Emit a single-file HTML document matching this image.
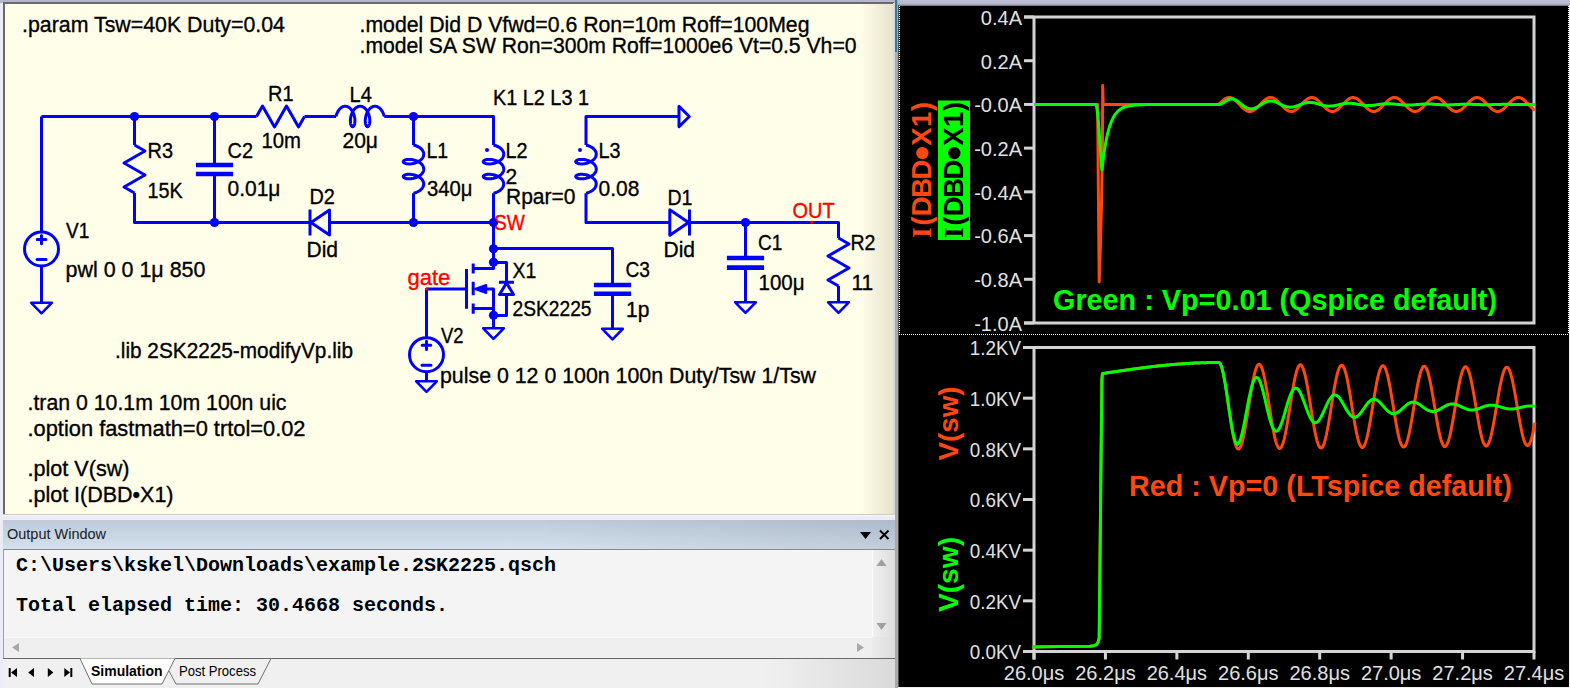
<!DOCTYPE html>
<html><head><meta charset="utf-8">
<style>
html,body{margin:0;padding:0;width:1570px;height:688px;overflow:hidden;background:#ebecf6;font-family:"Liberation Sans",sans-serif;}
.abs{position:absolute;}
#topband{left:0;top:0;width:895px;height:3px;background:#b4b6cc;}
#topband2{left:895px;top:0;width:675px;height:6px;background:linear-gradient(#bcbfd4 0,#b6b9ce 4px,#6c6c74 6px);}
#schem{left:3px;top:2px;width:891px;height:513px;background:linear-gradient(90deg,#fffee8 0,#fffee8 855px,#e4e2cc 890px);border-top:2px solid #6a6a6a;border-left:2px solid #6a6a6a;box-sizing:border-box;}
#schemb{left:3px;top:514px;width:892px;height:2px;background:linear-gradient(#cbcbcb 0,#cbcbcb 1px,#f6f6f8 1px);}
#owtitle{left:3px;top:520px;width:892px;height:29px;background:linear-gradient(90deg,rgba(40,50,70,0) 60%,rgba(40,50,70,0.10)),linear-gradient(#bccada,#d4e0ed);}
#owline{left:3px;top:549px;width:892px;height:1px;background:#8a8a8a;}
#owbody{left:3px;top:550px;width:892px;height:138px;background:#f4f4f4;border-left:1px solid #a0a0a0;box-sizing:border-box;}
#hscroll{left:4px;top:637px;width:868px;height:21px;background:#efefef;border-top:1px solid #fafafa;}
#vscroll{left:872px;top:550px;width:23px;height:108px;background:linear-gradient(90deg,#f0f0f0,#dcdcdc);border-left:1px solid #fafafa;}
#hscroll2{left:872px;top:637px;width:23px;height:21px;background:linear-gradient(90deg,#ececec,#dcdcdc);}
#tabbar{left:3px;top:658px;width:892px;height:30px;background:linear-gradient(90deg,#f0f0f0 0,#f0f0f0 760px,#dadada 892px);border-top:1px solid #6a6a6a;box-sizing:border-box;}
#vstrip{left:893px;top:3px;width:2px;height:511px;background:#d8d8d8;}
#vstrip2{left:895px;top:0;width:3px;height:688px;background:#a8a8a8;}
#vthumb{left:895px;top:0;width:2px;height:52px;background:#2f7b9b;}
#vdark{left:898px;top:5px;width:1px;height:683px;background:#505050;}
#plotbg{left:899px;top:6px;width:670px;height:681px;background:#000;}
#rightedge{left:1569px;top:5px;width:1px;height:683px;background:#f0f0f0;}
#botedge{left:898px;top:687px;width:672px;height:1px;background:#f0f0f0;}
svg{position:absolute;left:0;top:0;}
.mono{font-family:"Liberation Mono",monospace;font-weight:700;font-size:20px;color:#000;white-space:pre;position:absolute;}
</style></head><body>
<div class="abs" id="topband"></div>
<div class="abs" id="topband2"></div>
<div class="abs" id="schem"></div>
<div class="abs" id="schemb"></div>
<div class="abs" id="owtitle"></div>
<div class="abs" id="owline"></div>
<div class="abs" id="owbody"></div>
<div class="abs" id="hscroll"></div>
<div class="abs" id="vscroll"></div>
<div class="abs" id="hscroll2"></div>
<div class="abs" id="tabbar"></div>
<div class="abs" id="vstrip"></div>
<div class="abs" id="vstrip2"></div>
<div class="abs" id="vthumb"></div>
<div class="abs" id="vdark"></div>
<div class="abs" id="plotbg"></div>
<div class="abs" id="rightedge"></div>
<div class="abs" id="botedge"></div>
<svg width="1570" height="688" viewBox="0 0 1570 688" font-family="Liberation Sans">
<defs><pattern id="dots" width="2" height="2" patternUnits="userSpaceOnUse"><rect width="1" height="1" fill="#ffffff"/></pattern></defs>
<g stroke="#0000ff" stroke-width="3" fill="none" stroke-linejoin="round" stroke-linecap="butt">
<path d="M41.5 116.5 L41.5 231.5" />
<circle cx="41.5" cy="249" r="17" fill="none"/>
<path d="M37.2 239.6 L45.8 239.6 M41.5 235.5 L41.5 243.7 M37 259.5 L46 259.5" stroke-width="3" stroke-linecap="round"/>
<path d="M41.5 266.5 L41.5 303.5" />
<path d="M31.2 302.8 L51.8 302.8 L41.5 313.3 Z" stroke-linejoin="round" stroke-width="2.6"/>
<path d="M41.5 116.5 L256.5 116.5" />
<path d="M256.5 116.5 L262.5 106 L274.5 127 L286.5 106 L298.5 127 L304.5 116.5" />
<path d="M304.5 116.5 L336 116.5" />
<path d="M336 116.5 L336.2 115.7 L336.44 114.9 L336.71 114.11 L337.01 113.33 L337.35 112.58 L337.71 111.85 L338.11 111.14 L338.54 110.48 L338.99 109.84 L339.47 109.25 L339.97 108.71 L340.49 108.21 L341.04 107.76 L341.6 107.37 L342.18 107.03 L342.77 106.75 L343.37 106.53 L343.97 106.38 L344.59 106.28 L345.2 106.25 L345.82 106.28 L346.43 106.38 L347.04 106.53 L347.64 106.75 L348.23 107.03 L348.81 107.37 L349.37 107.76 L349.92 108.21 L350.44 108.71 L350.94 109.25 L351.42 109.84 L351.87 110.48 L352.3 111.14 L352.69 111.85 L353.06 112.58 L353.4 113.33 L353.7 114.11 L353.97 114.9 L354.21 115.7 L354.41 116.5 L354.58 117.3 L354.71 118.1 L354.82 118.89 L354.89 119.67 L354.92 120.42 L354.93 121.15 L354.9 121.86 L354.85 122.52 L354.77 123.16 L354.67 123.75 L354.54 124.29 L354.38 124.79 L354.21 125.24 L354.02 125.63 L353.82 125.97 L353.6 126.25 L353.37 126.47 L353.14 126.62 L352.9 126.72 L352.65 126.75 L352.41 126.72 L352.17 126.62 L351.93 126.47 L351.7 126.25 L351.49 125.97 L351.28 125.63 L351.09 125.24 L350.92 124.79 L350.77 124.29 L350.64 123.75 L350.53 123.16 L350.45 122.52 L350.4 121.86 L350.38 121.15 L350.38 120.42 L350.42 119.67 L350.49 118.89 L350.59 118.1 L350.73 117.3 L350.9 116.5 L351.1 115.7 L351.34 114.9 L351.61 114.11 L351.91 113.33 L352.25 112.58 L352.61 111.85 L353.01 111.14 L353.43 110.48 L353.89 109.84 L354.36 109.25 L354.87 108.71 L355.39 108.21 L355.93 107.76 L356.5 107.37 L357.07 107.03 L357.66 106.75 L358.26 106.53 L358.87 106.38 L359.49 106.28 L360.1 106.25 L360.72 106.28 L361.33 106.38 L361.94 106.53 L362.54 106.75 L363.13 107.03 L363.71 107.37 L364.27 107.76 L364.81 108.21 L365.34 108.71 L365.84 109.25 L366.32 109.84 L366.77 110.48 L367.2 111.14 L367.59 111.85 L367.96 112.58 L368.29 113.33 L368.6 114.11 L368.87 114.9 L369.1 115.7 L369.31 116.5 L369.48 117.3 L369.61 118.1 L369.71 118.89 L369.78 119.67 L369.82 120.42 L369.83 121.15 L369.8 121.86 L369.75 122.52 L369.67 123.16 L369.56 123.75 L369.43 124.29 L369.28 124.79 L369.11 125.24 L368.92 125.63 L368.72 125.97 L368.5 126.25 L368.27 126.47 L368.04 126.62 L367.79 126.72 L367.55 126.75 L367.31 126.72 L367.07 126.62 L366.83 126.47 L366.6 126.25 L366.38 125.97 L366.18 125.63 L365.99 125.24 L365.82 124.79 L365.67 124.29 L365.54 123.75 L365.43 123.16 L365.35 122.52 L365.3 121.86 L365.27 121.15 L365.28 120.42 L365.32 119.67 L365.39 118.89 L365.49 118.1 L365.63 117.3 L365.79 116.5 L366 115.7 L366.23 114.9 L366.5 114.11 L366.81 113.33 L367.14 112.58 L367.51 111.85 L367.91 111.14 L368.33 110.48 L368.78 109.84 L369.26 109.25 L369.76 108.71 L370.29 108.21 L370.83 107.76 L371.39 107.37 L371.97 107.03 L372.56 106.75 L373.16 106.53 L373.77 106.38 L374.38 106.28 L375 106.25 L375.62 106.28 L376.23 106.38 L376.84 106.53 L377.44 106.75 L378.03 107.03 L378.6 107.37 L379.17 107.76 L379.71 108.21 L380.23 108.71 L380.74 109.25 L381.21 109.84 L381.67 110.48 L382.09 111.14 L382.49 111.85 L382.86 112.58 L383.19 113.33 L383.49 114.11 L383.76 114.9 L384 115.7 L384.2 116.5" />
<path d="M384.3 116.5 L493.5 116.5 L493.5 145" />
<path d="M134.5 116.5 L134.5 145" />
<path d="M134.5 145 L145 151 L124 163 L145 175 L124 187 L134.5 193" />
<path d="M134.5 193 L134.5 222.5 L309 222.5" />
<path d="M214.5 116.5 L214.5 165" />
<path d="M195.9 165 L233.1 165 M195.9 174 L233.1 174" stroke-width="4.6" stroke-linecap="butt"/>
<path d="M214.5 174 L214.5 222.5" />
<path d="M310 209.5 L310 235.5 M311 222.5 L329.5 210 L329.5 235 Z" stroke-linejoin="round"/>
<path d="M329.5 222.5 L493.5 222.5" />
<path d="M413.5 116.5 L413.5 145" />
<path d="M413.5 145 L414.3 145.2 L415.1 145.44 L415.89 145.71 L416.67 146.01 L417.42 146.35 L418.15 146.71 L418.86 147.11 L419.52 147.54 L420.16 147.99 L420.75 148.47 L421.29 148.97 L421.79 149.49 L422.24 150.04 L422.63 150.6 L422.97 151.18 L423.25 151.77 L423.47 152.37 L423.62 152.97 L423.72 153.59 L423.75 154.2 L423.72 154.82 L423.62 155.43 L423.47 156.04 L423.25 156.64 L422.97 157.23 L422.63 157.81 L422.24 158.37 L421.79 158.92 L421.29 159.44 L420.75 159.94 L420.16 160.42 L419.52 160.87 L418.86 161.3 L418.15 161.69 L417.42 162.06 L416.67 162.4 L415.89 162.7 L415.1 162.97 L414.3 163.21 L413.5 163.41 L412.7 163.58 L411.9 163.71 L411.11 163.82 L410.33 163.89 L409.58 163.92 L408.85 163.93 L408.14 163.9 L407.48 163.85 L406.84 163.77 L406.25 163.67 L405.71 163.54 L405.21 163.38 L404.76 163.21 L404.37 163.02 L404.03 162.82 L403.75 162.6 L403.53 162.37 L403.38 162.14 L403.28 161.9 L403.25 161.65 L403.28 161.41 L403.38 161.17 L403.53 160.93 L403.75 160.7 L404.03 160.49 L404.37 160.28 L404.76 160.09 L405.21 159.92 L405.71 159.77 L406.25 159.64 L406.84 159.53 L407.48 159.45 L408.14 159.4 L408.85 159.38 L409.58 159.38 L410.33 159.42 L411.11 159.49 L411.9 159.59 L412.7 159.73 L413.5 159.9 L414.3 160.1 L415.1 160.34 L415.89 160.61 L416.67 160.91 L417.42 161.25 L418.15 161.61 L418.86 162.01 L419.52 162.43 L420.16 162.89 L420.75 163.36 L421.29 163.87 L421.79 164.39 L422.24 164.93 L422.63 165.5 L422.97 166.07 L423.25 166.66 L423.47 167.26 L423.62 167.87 L423.72 168.49 L423.75 169.1 L423.72 169.72 L423.62 170.33 L423.47 170.94 L423.25 171.54 L422.97 172.13 L422.63 172.71 L422.24 173.27 L421.79 173.81 L421.29 174.34 L420.75 174.84 L420.16 175.32 L419.52 175.77 L418.86 176.2 L418.15 176.59 L417.42 176.96 L416.67 177.29 L415.89 177.6 L415.1 177.87 L414.3 178.1 L413.5 178.31 L412.7 178.48 L411.9 178.61 L411.11 178.71 L410.33 178.78 L409.58 178.82 L408.85 178.83 L408.14 178.8 L407.48 178.75 L406.84 178.67 L406.25 178.56 L405.71 178.43 L405.21 178.28 L404.76 178.11 L404.37 177.92 L404.03 177.72 L403.75 177.5 L403.53 177.27 L403.38 177.04 L403.28 176.79 L403.25 176.55 L403.28 176.31 L403.38 176.07 L403.53 175.83 L403.75 175.6 L404.03 175.38 L404.37 175.18 L404.76 174.99 L405.21 174.82 L405.71 174.67 L406.25 174.54 L406.84 174.43 L407.48 174.35 L408.14 174.3 L408.85 174.27 L409.58 174.28 L410.33 174.32 L411.11 174.39 L411.9 174.49 L412.7 174.63 L413.5 174.79 L414.3 175 L415.1 175.23 L415.89 175.5 L416.67 175.81 L417.42 176.14 L418.15 176.51 L418.86 176.91 L419.52 177.33 L420.16 177.78 L420.75 178.26 L421.29 178.76 L421.79 179.29 L422.24 179.83 L422.63 180.39 L422.97 180.97 L423.25 181.56 L423.47 182.16 L423.62 182.77 L423.72 183.38 L423.75 184 L423.72 184.62 L423.62 185.23 L423.47 185.84 L423.25 186.44 L422.97 187.03 L422.63 187.6 L422.24 188.17 L421.79 188.71 L421.29 189.23 L420.75 189.74 L420.16 190.21 L419.52 190.67 L418.86 191.09 L418.15 191.49 L417.42 191.86 L416.67 192.19 L415.89 192.49 L415.1 192.76 L414.3 193 L413.5 193.2" />
<path d="M413.5 193.3 L413.5 222.5" />
<path d="M493.5 145 L494.3 145.2 L495.1 145.44 L495.89 145.71 L496.67 146.01 L497.42 146.35 L498.15 146.71 L498.86 147.11 L499.52 147.54 L500.16 147.99 L500.75 148.47 L501.29 148.97 L501.79 149.49 L502.24 150.04 L502.63 150.6 L502.97 151.18 L503.25 151.77 L503.47 152.37 L503.62 152.97 L503.72 153.59 L503.75 154.2 L503.72 154.82 L503.62 155.43 L503.47 156.04 L503.25 156.64 L502.97 157.23 L502.63 157.81 L502.24 158.37 L501.79 158.92 L501.29 159.44 L500.75 159.94 L500.16 160.42 L499.52 160.87 L498.86 161.3 L498.15 161.69 L497.42 162.06 L496.67 162.4 L495.89 162.7 L495.1 162.97 L494.3 163.21 L493.5 163.41 L492.7 163.58 L491.9 163.71 L491.11 163.82 L490.33 163.89 L489.58 163.92 L488.85 163.93 L488.14 163.9 L487.48 163.85 L486.84 163.77 L486.25 163.67 L485.71 163.54 L485.21 163.38 L484.76 163.21 L484.37 163.02 L484.03 162.82 L483.75 162.6 L483.53 162.37 L483.38 162.14 L483.28 161.9 L483.25 161.65 L483.28 161.41 L483.38 161.17 L483.53 160.93 L483.75 160.7 L484.03 160.49 L484.37 160.28 L484.76 160.09 L485.21 159.92 L485.71 159.77 L486.25 159.64 L486.84 159.53 L487.48 159.45 L488.14 159.4 L488.85 159.38 L489.58 159.38 L490.33 159.42 L491.11 159.49 L491.9 159.59 L492.7 159.73 L493.5 159.9 L494.3 160.1 L495.1 160.34 L495.89 160.61 L496.67 160.91 L497.42 161.25 L498.15 161.61 L498.86 162.01 L499.52 162.43 L500.16 162.89 L500.75 163.36 L501.29 163.87 L501.79 164.39 L502.24 164.93 L502.63 165.5 L502.97 166.07 L503.25 166.66 L503.47 167.26 L503.62 167.87 L503.72 168.49 L503.75 169.1 L503.72 169.72 L503.62 170.33 L503.47 170.94 L503.25 171.54 L502.97 172.13 L502.63 172.71 L502.24 173.27 L501.79 173.81 L501.29 174.34 L500.75 174.84 L500.16 175.32 L499.52 175.77 L498.86 176.2 L498.15 176.59 L497.42 176.96 L496.67 177.29 L495.89 177.6 L495.1 177.87 L494.3 178.1 L493.5 178.31 L492.7 178.48 L491.9 178.61 L491.11 178.71 L490.33 178.78 L489.58 178.82 L488.85 178.83 L488.14 178.8 L487.48 178.75 L486.84 178.67 L486.25 178.56 L485.71 178.43 L485.21 178.28 L484.76 178.11 L484.37 177.92 L484.03 177.72 L483.75 177.5 L483.53 177.27 L483.38 177.04 L483.28 176.79 L483.25 176.55 L483.28 176.31 L483.38 176.07 L483.53 175.83 L483.75 175.6 L484.03 175.38 L484.37 175.18 L484.76 174.99 L485.21 174.82 L485.71 174.67 L486.25 174.54 L486.84 174.43 L487.48 174.35 L488.14 174.3 L488.85 174.27 L489.58 174.28 L490.33 174.32 L491.11 174.39 L491.9 174.49 L492.7 174.63 L493.5 174.79 L494.3 175 L495.1 175.23 L495.89 175.5 L496.67 175.81 L497.42 176.14 L498.15 176.51 L498.86 176.91 L499.52 177.33 L500.16 177.78 L500.75 178.26 L501.29 178.76 L501.79 179.29 L502.24 179.83 L502.63 180.39 L502.97 180.97 L503.25 181.56 L503.47 182.16 L503.62 182.77 L503.72 183.38 L503.75 184 L503.72 184.62 L503.62 185.23 L503.47 185.84 L503.25 186.44 L502.97 187.03 L502.63 187.6 L502.24 188.17 L501.79 188.71 L501.29 189.23 L500.75 189.74 L500.16 190.21 L499.52 190.67 L498.86 191.09 L498.15 191.49 L497.42 191.86 L496.67 192.19 L495.89 192.49 L495.1 192.76 L494.3 193 L493.5 193.2" />
<circle cx="487" cy="150" r="2" fill="#0000ff" stroke="none"/>
<path d="M493.5 193.3 L493.5 262.5" />
<path d="M679 116.5 L586 116.5 L586 145" />
<path d="M679 106.3 L689.3 116.5 L679 126.7 Z" stroke-linejoin="round"/>
<path d="M586 145 L586.8 145.2 L587.6 145.44 L588.39 145.71 L589.17 146.01 L589.92 146.35 L590.65 146.71 L591.36 147.11 L592.02 147.54 L592.66 147.99 L593.25 148.47 L593.79 148.97 L594.29 149.49 L594.74 150.04 L595.13 150.6 L595.47 151.18 L595.75 151.77 L595.97 152.37 L596.12 152.97 L596.22 153.59 L596.25 154.2 L596.22 154.82 L596.12 155.43 L595.97 156.04 L595.75 156.64 L595.47 157.23 L595.13 157.81 L594.74 158.37 L594.29 158.92 L593.79 159.44 L593.25 159.94 L592.66 160.42 L592.02 160.87 L591.36 161.3 L590.65 161.69 L589.92 162.06 L589.17 162.4 L588.39 162.7 L587.6 162.97 L586.8 163.21 L586 163.41 L585.2 163.58 L584.4 163.71 L583.61 163.82 L582.83 163.89 L582.08 163.92 L581.35 163.93 L580.64 163.9 L579.98 163.85 L579.34 163.77 L578.75 163.67 L578.21 163.54 L577.71 163.38 L577.26 163.21 L576.87 163.02 L576.53 162.82 L576.25 162.6 L576.03 162.37 L575.88 162.14 L575.78 161.9 L575.75 161.65 L575.78 161.41 L575.88 161.17 L576.03 160.93 L576.25 160.7 L576.53 160.49 L576.87 160.28 L577.26 160.09 L577.71 159.92 L578.21 159.77 L578.75 159.64 L579.34 159.53 L579.98 159.45 L580.64 159.4 L581.35 159.38 L582.08 159.38 L582.83 159.42 L583.61 159.49 L584.4 159.59 L585.2 159.73 L586 159.9 L586.8 160.1 L587.6 160.34 L588.39 160.61 L589.17 160.91 L589.92 161.25 L590.65 161.61 L591.36 162.01 L592.02 162.43 L592.66 162.89 L593.25 163.36 L593.79 163.87 L594.29 164.39 L594.74 164.93 L595.13 165.5 L595.47 166.07 L595.75 166.66 L595.97 167.26 L596.12 167.87 L596.22 168.49 L596.25 169.1 L596.22 169.72 L596.12 170.33 L595.97 170.94 L595.75 171.54 L595.47 172.13 L595.13 172.71 L594.74 173.27 L594.29 173.81 L593.79 174.34 L593.25 174.84 L592.66 175.32 L592.02 175.77 L591.36 176.2 L590.65 176.59 L589.92 176.96 L589.17 177.29 L588.39 177.6 L587.6 177.87 L586.8 178.1 L586 178.31 L585.2 178.48 L584.4 178.61 L583.61 178.71 L582.83 178.78 L582.08 178.82 L581.35 178.83 L580.64 178.8 L579.98 178.75 L579.34 178.67 L578.75 178.56 L578.21 178.43 L577.71 178.28 L577.26 178.11 L576.87 177.92 L576.53 177.72 L576.25 177.5 L576.03 177.27 L575.88 177.04 L575.78 176.79 L575.75 176.55 L575.78 176.31 L575.88 176.07 L576.03 175.83 L576.25 175.6 L576.53 175.38 L576.87 175.18 L577.26 174.99 L577.71 174.82 L578.21 174.67 L578.75 174.54 L579.34 174.43 L579.98 174.35 L580.64 174.3 L581.35 174.27 L582.08 174.28 L582.83 174.32 L583.61 174.39 L584.4 174.49 L585.2 174.63 L586 174.79 L586.8 175 L587.6 175.23 L588.39 175.5 L589.17 175.81 L589.92 176.14 L590.65 176.51 L591.36 176.91 L592.02 177.33 L592.66 177.78 L593.25 178.26 L593.79 178.76 L594.29 179.29 L594.74 179.83 L595.13 180.39 L595.47 180.97 L595.75 181.56 L595.97 182.16 L596.12 182.77 L596.22 183.38 L596.25 184 L596.22 184.62 L596.12 185.23 L595.97 185.84 L595.75 186.44 L595.47 187.03 L595.13 187.6 L594.74 188.17 L594.29 188.71 L593.79 189.23 L593.25 189.74 L592.66 190.21 L592.02 190.67 L591.36 191.09 L590.65 191.49 L589.92 191.86 L589.17 192.19 L588.39 192.49 L587.6 192.76 L586.8 193 L586 193.2" />
<circle cx="580" cy="150" r="2" fill="#0000ff" stroke="none"/>
<path d="M586 193.3 L586 222.5 L670 222.5" />
<path d="M669.8 209.8 L669.8 235.2 L688.5 222.5 Z M689.5 209.5 L689.5 235.5" stroke-linejoin="round"/>
<path d="M689 222.5 L838.5 222.5 L838.5 238" />
<path d="M745.5 222.5 L745.5 258" />
<path d="M726.9 258 L764.1 258 M726.9 267.6 L764.1 267.6" stroke-width="4.6" stroke-linecap="butt"/>
<path d="M745.5 267.6 L745.5 303" />
<path d="M735.2 302.3 L755.8 302.3 L745.5 312.8 Z" stroke-linejoin="round" stroke-width="2.6"/>
<path d="M838.5 238 L849 244 L828 256 L849 268 L828 280 L838.5 286" />
<path d="M838.5 286 L838.5 303" />
<path d="M828.2 302.3 L848.8 302.3 L838.5 312.8 Z" stroke-linejoin="round" stroke-width="2.6"/>
<path d="M493.5 248.5 L612.5 248.5 L612.5 285" />
<path d="M593.9 285 L631.1 285 M593.9 293.7 L631.1 293.7" stroke-width="4.6" stroke-linecap="butt"/>
<path d="M612.5 293.7 L612.5 329.5" />
<path d="M602.2 328.8 L622.8 328.8 L612.5 339.3 Z" stroke-linejoin="round" stroke-width="2.6"/>
<path d="M493.5 262.5 L506.5 262.5 L506.5 282" />
<path d="M506.5 294.5 L506.5 315.5 L493.5 315.5" />
<path d="M493.5 262.5 L493.5 268.5 L473.2 268.5" />
<path d="M473.2 308.5 L493.5 308.5" />
<path d="M486 289 L493.5 289 L493.5 329" />
<path d="M473.2 263.4 L473.2 273.6 M473.2 281.8 L473.2 295.2 M473.2 303.4 L473.2 313.8 M466.5 269 L466.5 308.7"/>
<path d="M475 289 L486.2 285 L486.2 293 Z" fill="#0000ff" stroke-linejoin="round" stroke-width="2"/>
<path d="M499 282.2 L514 282.2 M499.5 294.5 L513.5 294.5 L506.5 283 Z" stroke-linejoin="round"/>
<path d="M483.2 328.3 L503.8 328.3 L493.5 338.8 Z" stroke-linejoin="round" stroke-width="2.6"/>
<path d="M466.5 289 L426.5 289 L426.5 338" />
<circle cx="426.5" cy="354.7" r="17" fill="none"/>
<path d="M422.2 345.3 L430.8 345.3 M426.5 341.2 L426.5 349.4 M422 365.2 L431 365.2" stroke-width="3" stroke-linecap="round"/>
<path d="M426.5 371.5 L426.5 382" />
<path d="M416.2 381.3 L436.8 381.3 L426.5 391.8 Z" stroke-linejoin="round" stroke-width="2.6"/>
<circle cx="134.5" cy="116.5" r="4.6" fill="#0000ff" stroke="none"/>
<circle cx="214.5" cy="116.5" r="4.6" fill="#0000ff" stroke="none"/>
<circle cx="413.5" cy="116.5" r="4.6" fill="#0000ff" stroke="none"/>
<circle cx="214.5" cy="222.5" r="4.6" fill="#0000ff" stroke="none"/>
<circle cx="413.5" cy="222.5" r="4.6" fill="#0000ff" stroke="none"/>
<circle cx="493.5" cy="222.5" r="4.6" fill="#0000ff" stroke="none"/>
<circle cx="745.5" cy="222.5" r="4.6" fill="#0000ff" stroke="none"/>
<circle cx="493.5" cy="248.8" r="4.6" fill="#0000ff" stroke="none"/>
<circle cx="493.5" cy="262.3" r="4.6" fill="#0000ff" stroke="none"/>
<circle cx="493.5" cy="315.3" r="4.6" fill="#0000ff" stroke="none"/>
</g>
<g>
<text x="22" y="32" font-size="22" fill="#000" stroke="#000" stroke-width="0.35" font-weight="400" text-anchor="start" textLength="263" lengthAdjust="spacingAndGlyphs">.param Tsw=40K Duty=0.04</text>
<text x="359.5" y="31.5" font-size="22" fill="#000" stroke="#000" stroke-width="0.35" font-weight="400" text-anchor="start" textLength="450" lengthAdjust="spacingAndGlyphs">.model Did D Vfwd=0.6 Ron=10m Roff=100Meg</text>
<text x="359.5" y="52.5" font-size="22" fill="#000" stroke="#000" stroke-width="0.35" font-weight="400" text-anchor="start" textLength="497" lengthAdjust="spacingAndGlyphs">.model SA SW Ron=300m Roff=1000e6 Vt=0.5 Vh=0</text>
<text x="268" y="101.2" font-size="22" fill="#000" stroke="#000" stroke-width="0.35" font-weight="400" text-anchor="start" textLength="25.5" lengthAdjust="spacingAndGlyphs">R1</text>
<text x="349.5" y="101.7" font-size="22" fill="#000" stroke="#000" stroke-width="0.35" font-weight="400" text-anchor="start" textLength="22.3" lengthAdjust="spacingAndGlyphs">L4</text>
<text x="493" y="104.5" font-size="22" fill="#000" stroke="#000" stroke-width="0.35" font-weight="400" text-anchor="start" textLength="96" lengthAdjust="spacingAndGlyphs">K1 L2 L3 1</text>
<text x="261.5" y="148" font-size="22" fill="#000" stroke="#000" stroke-width="0.35" font-weight="400" text-anchor="start" textLength="39.5" lengthAdjust="spacingAndGlyphs">10m</text>
<text x="342.5" y="148" font-size="22" fill="#000" stroke="#000" stroke-width="0.35" font-weight="400" text-anchor="start" textLength="35.47" lengthAdjust="spacingAndGlyphs">20μ</text>
<text x="147.5" y="157.6" font-size="22" fill="#000" stroke="#000" stroke-width="0.35" font-weight="400" text-anchor="start" textLength="25.5" lengthAdjust="spacingAndGlyphs">R3</text>
<text x="147.5" y="197.6" font-size="22" fill="#000" stroke="#000" stroke-width="0.35" font-weight="400" text-anchor="start" textLength="35.1" lengthAdjust="spacingAndGlyphs">15K</text>
<text x="227.5" y="157.5" font-size="22" fill="#000" stroke="#000" stroke-width="0.35" font-weight="400" text-anchor="start" textLength="25.5" lengthAdjust="spacingAndGlyphs">C2</text>
<text x="227.5" y="196.3" font-size="22" fill="#000" stroke="#000" stroke-width="0.35" font-weight="400" text-anchor="start" textLength="52.98" lengthAdjust="spacingAndGlyphs">0.01μ</text>
<text x="426.5" y="157.5" font-size="22" fill="#000" stroke="#000" stroke-width="0.35" font-weight="400" text-anchor="start" textLength="21.7" lengthAdjust="spacingAndGlyphs">L1</text>
<text x="427" y="196.3" font-size="22" fill="#000" stroke="#000" stroke-width="0.35" font-weight="400" text-anchor="start" textLength="45.5" lengthAdjust="spacingAndGlyphs">340μ</text>
<text x="505.5" y="157.5" font-size="22" fill="#000" stroke="#000" stroke-width="0.35" font-weight="400" text-anchor="start" textLength="22" lengthAdjust="spacingAndGlyphs">L2</text>
<text x="505.5" y="184" font-size="22" fill="#000" stroke="#000" stroke-width="0.35" font-weight="400" text-anchor="start" textLength="11.69" lengthAdjust="spacingAndGlyphs">2</text>
<text x="506" y="204.4" font-size="22" fill="#000" stroke="#000" stroke-width="0.35" font-weight="400" text-anchor="start" textLength="69.47" lengthAdjust="spacingAndGlyphs">Rpar=0</text>
<text x="598.5" y="157.5" font-size="22" fill="#000" stroke="#000" stroke-width="0.35" font-weight="400" text-anchor="start" textLength="22" lengthAdjust="spacingAndGlyphs">L3</text>
<text x="598.5" y="196.3" font-size="22" fill="#000" stroke="#000" stroke-width="0.35" font-weight="400" text-anchor="start" textLength="40.88" lengthAdjust="spacingAndGlyphs">0.08</text>
<text x="309.5" y="204" font-size="22" fill="#000" stroke="#000" stroke-width="0.35" font-weight="400" text-anchor="start" textLength="25.4" lengthAdjust="spacingAndGlyphs">D2</text>
<text x="306.5" y="257" font-size="22" fill="#000" stroke="#000" stroke-width="0.35" font-weight="400" text-anchor="start" textLength="31.52" lengthAdjust="spacingAndGlyphs">Did</text>
<text x="667.5" y="204.8" font-size="22" fill="#000" stroke="#000" stroke-width="0.35" font-weight="400" text-anchor="start" textLength="25" lengthAdjust="spacingAndGlyphs">D1</text>
<text x="663.5" y="257.4" font-size="22" fill="#000" stroke="#000" stroke-width="0.35" font-weight="400" text-anchor="start" textLength="31.52" lengthAdjust="spacingAndGlyphs">Did</text>
<text x="494" y="230" font-size="22" fill="#ff0000" stroke="#ff0000" stroke-width="0.35" font-weight="400" text-anchor="start" textLength="30.8" lengthAdjust="spacingAndGlyphs">SW</text>
<text x="792.5" y="217.7" font-size="22" fill="#ff0000" stroke="#ff0000" stroke-width="0.35" font-weight="400" text-anchor="start" textLength="42.1" lengthAdjust="spacingAndGlyphs">OUT</text>
<text x="758" y="250.3" font-size="22" fill="#000" stroke="#000" stroke-width="0.35" font-weight="400" text-anchor="start" textLength="24.4" lengthAdjust="spacingAndGlyphs">C1</text>
<text x="758.5" y="290" font-size="22" fill="#000" stroke="#000" stroke-width="0.35" font-weight="400" text-anchor="start" textLength="46.1" lengthAdjust="spacingAndGlyphs">100μ</text>
<text x="850.5" y="250.3" font-size="22" fill="#000" stroke="#000" stroke-width="0.35" font-weight="400" text-anchor="start" textLength="25" lengthAdjust="spacingAndGlyphs">R2</text>
<text x="851.5" y="290" font-size="22" fill="#000" stroke="#000" stroke-width="0.35" font-weight="400" text-anchor="start" textLength="21.81" lengthAdjust="spacingAndGlyphs">11</text>
<text x="66" y="237.5" font-size="22" fill="#000" stroke="#000" stroke-width="0.35" font-weight="400" text-anchor="start" textLength="23.3" lengthAdjust="spacingAndGlyphs">V1</text>
<text x="65.5" y="276.7" font-size="22" fill="#000" stroke="#000" stroke-width="0.35" font-weight="400" text-anchor="start" textLength="140" lengthAdjust="spacingAndGlyphs">pwl 0 0 1μ 850</text>
<text x="407.5" y="284.9" font-size="22" fill="#ff0000" stroke="#ff0000" stroke-width="0.35" font-weight="400" text-anchor="start" textLength="42.8" lengthAdjust="spacingAndGlyphs">gate</text>
<text x="512.5" y="277.7" font-size="22" fill="#000" stroke="#000" stroke-width="0.35" font-weight="400" text-anchor="start" textLength="23.8" lengthAdjust="spacingAndGlyphs">X1</text>
<text x="512.5" y="316.4" font-size="22" fill="#000" stroke="#000" stroke-width="0.35" font-weight="400" text-anchor="start" textLength="79" lengthAdjust="spacingAndGlyphs">2SK2225</text>
<text x="625.5" y="277.1" font-size="22" fill="#000" stroke="#000" stroke-width="0.35" font-weight="400" text-anchor="start" textLength="24.5" lengthAdjust="spacingAndGlyphs">C3</text>
<text x="626" y="317.2" font-size="22" fill="#000" stroke="#000" stroke-width="0.35" font-weight="400" text-anchor="start" textLength="23.36" lengthAdjust="spacingAndGlyphs">1p</text>
<text x="441" y="342.7" font-size="22" fill="#000" stroke="#000" stroke-width="0.35" font-weight="400" text-anchor="start" textLength="22.5" lengthAdjust="spacingAndGlyphs">V2</text>
<text x="440" y="383.3" font-size="22" fill="#000" stroke="#000" stroke-width="0.35" font-weight="400" text-anchor="start" textLength="376" lengthAdjust="spacingAndGlyphs">pulse 0 12 0 100n 100n Duty/Tsw 1/Tsw</text>
<text x="115" y="357.8" font-size="22" fill="#000" stroke="#000" stroke-width="0.35" font-weight="400" text-anchor="start" textLength="238" lengthAdjust="spacingAndGlyphs">.lib 2SK2225-modifyVp.lib</text>
<text x="27.5" y="410.3" font-size="22" fill="#000" stroke="#000" stroke-width="0.35" font-weight="400" text-anchor="start" textLength="259" lengthAdjust="spacingAndGlyphs">.tran 0 10.1m 10m 100n uic</text>
<text x="27.5" y="436" font-size="22" fill="#000" stroke="#000" stroke-width="0.35" font-weight="400" text-anchor="start" textLength="278" lengthAdjust="spacingAndGlyphs">.option fastmath=0 trtol=0.02</text>
<text x="27.5" y="476.2" font-size="22" fill="#000" stroke="#000" stroke-width="0.35" font-weight="400" text-anchor="start" textLength="102" lengthAdjust="spacingAndGlyphs">.plot V(sw)</text>
<text x="27.5" y="502" font-size="22" fill="#000" stroke="#000" stroke-width="0.35" font-weight="400" text-anchor="start" textLength="146" lengthAdjust="spacingAndGlyphs">.plot I(DBD•X1)</text>
<circle cx="426.6" cy="289" r="1.5" fill="#ff0000"/>
<circle cx="811.7" cy="222.3" r="1.5" fill="#ff0000"/>
</g>
<path d="M899 334.5 H1569" stroke="#ffffff" stroke-width="1" stroke-dasharray="1 1"/>
<path d="M899.5 6 V334" stroke="#ffffff" stroke-width="1" stroke-dasharray="1 1"/>
<path d="M1568.5 6 V334" stroke="#ffffff" stroke-width="1" stroke-dasharray="1 1"/>
<g font-family="Liberation Sans">
<path d="M1024 17 L1534 17 L1534 323 L1024 323 M1034 17 L1034 323" stroke="#d4d4d4" stroke-width="3" fill="none"/>
<path d="M1024 17 L1034 17" stroke="#d4d4d4" stroke-width="3"/>
<path d="M1024 60.71 L1034 60.71" stroke="#d4d4d4" stroke-width="3"/>
<path d="M1024 104.43 L1034 104.43" stroke="#d4d4d4" stroke-width="3"/>
<path d="M1024 148.14 L1034 148.14" stroke="#d4d4d4" stroke-width="3"/>
<path d="M1024 191.86 L1034 191.86" stroke="#d4d4d4" stroke-width="3"/>
<path d="M1024 235.57 L1034 235.57" stroke="#d4d4d4" stroke-width="3"/>
<path d="M1024 279.29 L1034 279.29" stroke="#d4d4d4" stroke-width="3"/>
<path d="M1024 323 L1034 323" stroke="#d4d4d4" stroke-width="3"/>
<text x="1022" y="24.8" font-size="20" fill="#e0e0e0" text-anchor="end">0.4A</text>
<text x="1022" y="68.51" font-size="20" fill="#e0e0e0" text-anchor="end">0.2A</text>
<text x="1022" y="112.23" font-size="20" fill="#e0e0e0" text-anchor="end">-0.0A</text>
<text x="1022" y="155.94" font-size="20" fill="#e0e0e0" text-anchor="end">-0.2A</text>
<text x="1022" y="199.66" font-size="20" fill="#e0e0e0" text-anchor="end">-0.4A</text>
<text x="1022" y="243.37" font-size="20" fill="#e0e0e0" text-anchor="end">-0.6A</text>
<text x="1022" y="287.09" font-size="20" fill="#e0e0e0" text-anchor="end">-0.8A</text>
<text x="1022" y="330.8" font-size="20" fill="#e0e0e0" text-anchor="end">-1.0A</text>
<path d="M1023 347.5 L1534 347.5 L1534 651.5 L1023 651.5 M1034 347.5 L1034 659.5" stroke="#d4d4d4" stroke-width="3" fill="none"/>
<path d="M1023 347.5 L1034 347.5" stroke="#d4d4d4" stroke-width="3"/>
<path d="M1023 398.17 L1034 398.17" stroke="#d4d4d4" stroke-width="3"/>
<path d="M1023 448.83 L1034 448.83" stroke="#d4d4d4" stroke-width="3"/>
<path d="M1023 499.5 L1034 499.5" stroke="#d4d4d4" stroke-width="3"/>
<path d="M1023 550.17 L1034 550.17" stroke="#d4d4d4" stroke-width="3"/>
<path d="M1023 600.83 L1034 600.83" stroke="#d4d4d4" stroke-width="3"/>
<path d="M1023 651.5 L1034 651.5" stroke="#d4d4d4" stroke-width="3"/>
<text x="1021" y="355.3" font-size="20" fill="#e0e0e0" text-anchor="end" textLength="51.2" lengthAdjust="spacingAndGlyphs">1.2KV</text>
<text x="1021" y="405.97" font-size="20" fill="#e0e0e0" text-anchor="end" textLength="51.2" lengthAdjust="spacingAndGlyphs">1.0KV</text>
<text x="1021" y="456.63" font-size="20" fill="#e0e0e0" text-anchor="end" textLength="51.2" lengthAdjust="spacingAndGlyphs">0.8KV</text>
<text x="1021" y="507.3" font-size="20" fill="#e0e0e0" text-anchor="end" textLength="51.2" lengthAdjust="spacingAndGlyphs">0.6KV</text>
<text x="1021" y="557.97" font-size="20" fill="#e0e0e0" text-anchor="end" textLength="51.2" lengthAdjust="spacingAndGlyphs">0.4KV</text>
<text x="1021" y="608.63" font-size="20" fill="#e0e0e0" text-anchor="end" textLength="51.2" lengthAdjust="spacingAndGlyphs">0.2KV</text>
<text x="1021" y="659.3" font-size="20" fill="#e0e0e0" text-anchor="end" textLength="51.2" lengthAdjust="spacingAndGlyphs">0.0KV</text>
<path d="M1034 651.5 L1034 659.5" stroke="#d4d4d4" stroke-width="3"/>
<text x="1034" y="679.5" font-size="20" fill="#e0e0e0" text-anchor="middle">26.0μs</text>
<path d="M1105.43 651.5 L1105.43 659.5" stroke="#d4d4d4" stroke-width="3"/>
<text x="1105.43" y="679.5" font-size="20" fill="#e0e0e0" text-anchor="middle">26.2μs</text>
<path d="M1176.86 651.5 L1176.86 659.5" stroke="#d4d4d4" stroke-width="3"/>
<text x="1176.86" y="679.5" font-size="20" fill="#e0e0e0" text-anchor="middle">26.4μs</text>
<path d="M1248.29 651.5 L1248.29 659.5" stroke="#d4d4d4" stroke-width="3"/>
<text x="1248.29" y="679.5" font-size="20" fill="#e0e0e0" text-anchor="middle">26.6μs</text>
<path d="M1319.71 651.5 L1319.71 659.5" stroke="#d4d4d4" stroke-width="3"/>
<text x="1319.71" y="679.5" font-size="20" fill="#e0e0e0" text-anchor="middle">26.8μs</text>
<path d="M1391.14 651.5 L1391.14 659.5" stroke="#d4d4d4" stroke-width="3"/>
<text x="1391.14" y="679.5" font-size="20" fill="#e0e0e0" text-anchor="middle">27.0μs</text>
<path d="M1462.57 651.5 L1462.57 659.5" stroke="#d4d4d4" stroke-width="3"/>
<text x="1462.57" y="679.5" font-size="20" fill="#e0e0e0" text-anchor="middle">27.2μs</text>
<path d="M1534 651.5 L1534 659.5" stroke="#d4d4d4" stroke-width="3"/>
<text x="1534" y="679.5" font-size="20" fill="#e0e0e0" text-anchor="middle">27.4μs</text>
<path d="M1032.5 647.0 L1060.0 646.6 L1090.0 646.2 L1094.0 645.7 L1096.5 644.6 L1098.0 642.5 L1099.2 638.0 L1101.9 380.0 L1102.4 373.6 L1102.5 373.5 L1103.0 373.5 L1103.5 373.4 L1104.0 373.3 L1104.5 373.2 L1105.0 373.2 L1105.5 373.1 L1106.0 373.0 L1106.5 372.9 L1107.0 372.9 L1107.5 372.8 L1108.0 372.7 L1108.5 372.6 L1109.0 372.6 L1109.5 372.5 L1110.0 372.4 L1110.5 372.3 L1111.0 372.3 L1111.5 372.2 L1112.0 372.1 L1112.5 372.0 L1113.0 372.0 L1113.5 371.9 L1114.0 371.8 L1114.5 371.7 L1115.0 371.7 L1115.5 371.6 L1116.0 371.5 L1116.5 371.4 L1117.0 371.4 L1117.5 371.3 L1118.0 371.2 L1118.5 371.2 L1119.0 371.1 L1119.5 371.0 L1120.0 370.9 L1120.5 370.9 L1121.0 370.8 L1121.5 370.7 L1122.0 370.7 L1122.5 370.6 L1123.0 370.5 L1123.5 370.4 L1124.0 370.4 L1124.5 370.3 L1125.0 370.2 L1125.5 370.2 L1126.0 370.1 L1126.5 370.0 L1127.0 369.9 L1127.5 369.9 L1128.0 369.8 L1128.5 369.7 L1129.0 369.7 L1129.5 369.6 L1130.0 369.5 L1130.5 369.4 L1131.0 369.4 L1131.5 369.3 L1132.0 369.2 L1132.5 369.2 L1133.0 369.1 L1133.5 369.0 L1134.0 369.0 L1134.5 368.9 L1135.0 368.8 L1135.5 368.8 L1136.0 368.7 L1136.5 368.6 L1137.0 368.6 L1137.5 368.5 L1138.0 368.4 L1138.5 368.4 L1139.0 368.3 L1139.5 368.2 L1140.0 368.2 L1140.5 368.1 L1141.0 368.0 L1141.5 368.0 L1142.0 367.9 L1142.5 367.8 L1143.0 367.8 L1143.5 367.7 L1144.0 367.7 L1144.5 367.6 L1145.0 367.5 L1145.5 367.5 L1146.0 367.4 L1146.5 367.3 L1147.0 367.3 L1147.5 367.2 L1148.0 367.2 L1148.5 367.1 L1149.0 367.0 L1149.5 367.0 L1150.0 366.9 L1150.5 366.9 L1151.0 366.8 L1151.5 366.7 L1152.0 366.7 L1152.5 366.6 L1153.0 366.6 L1153.5 366.5 L1154.0 366.5 L1154.5 366.4 L1155.0 366.3 L1155.5 366.3 L1156.0 366.2 L1156.5 366.2 L1157.0 366.1 L1157.5 366.1 L1158.0 366.0 L1158.5 366.0 L1159.0 365.9 L1159.5 365.8 L1160.0 365.8 L1160.5 365.7 L1161.0 365.7 L1161.5 365.6 L1162.0 365.6 L1162.5 365.5 L1163.0 365.5 L1163.5 365.4 L1164.0 365.4 L1164.5 365.3 L1165.0 365.3 L1165.5 365.2 L1166.0 365.2 L1166.5 365.1 L1167.0 365.1 L1167.5 365.0 L1168.0 365.0 L1168.5 364.9 L1169.0 364.9 L1169.5 364.9 L1170.0 364.8 L1170.5 364.8 L1171.0 364.7 L1171.5 364.7 L1172.0 364.6 L1172.5 364.6 L1173.0 364.5 L1173.5 364.5 L1174.0 364.5 L1174.5 364.4 L1175.0 364.4 L1175.5 364.3 L1176.0 364.3 L1176.5 364.2 L1177.0 364.2 L1177.5 364.2 L1178.0 364.1 L1178.5 364.1 L1179.0 364.1 L1179.5 364.0 L1180.0 364.0 L1180.5 363.9 L1181.0 363.9 L1181.5 363.9 L1182.0 363.8 L1182.5 363.8 L1183.0 363.8 L1183.5 363.7 L1184.0 363.7 L1184.5 363.7 L1185.0 363.6 L1185.5 363.6 L1186.0 363.6 L1186.5 363.5 L1187.0 363.5 L1187.5 363.5 L1188.0 363.4 L1188.5 363.4 L1189.0 363.4 L1189.5 363.4 L1190.0 363.3 L1190.5 363.3 L1191.0 363.3 L1191.5 363.2 L1192.0 363.2 L1192.5 363.2 L1193.0 363.2 L1193.5 363.1 L1194.0 363.1 L1194.5 363.1 L1195.0 363.1 L1195.5 363.0 L1196.0 363.0 L1196.5 363.0 L1197.0 363.0 L1197.5 363.0 L1198.0 362.9 L1198.5 362.9 L1199.0 362.9 L1199.5 362.9 L1200.0 362.9 L1200.5 362.8 L1201.0 362.8 L1201.5 362.8 L1202.0 362.8 L1202.5 362.8 L1203.0 362.7 L1203.5 362.7 L1204.0 362.7 L1204.5 362.7 L1205.0 362.7 L1205.5 362.7 L1206.0 362.7 L1206.5 362.7 L1207.0 362.6 L1207.5 362.6 L1208.0 362.6 L1208.5 362.6 L1209.0 362.6 L1209.5 362.6 L1210.0 362.6 L1210.5 362.6 L1211.0 362.6 L1211.5 362.6 L1212.0 362.5 L1212.5 362.5 L1213.0 362.5 L1213.5 362.5 L1214.0 362.5 L1214.5 362.5 L1215.0 362.5 L1215.5 362.5 L1216.0 362.5 L1216.5 362.5 L1217.0 362.5 L1217.5 362.5 L1218.0 362.5 L1218.5 362.5 L1219.0 362.5 L1219.5 362.8 L1220.0 363.3 L1220.5 364.1 L1221.0 365.2 L1221.5 366.5 L1222.0 368.1 L1222.5 369.9 L1223.0 372.0 L1223.5 374.2 L1224.0 376.7 L1224.5 379.4 L1225.0 382.2 L1225.5 385.2 L1226.0 388.3 L1226.5 391.5 L1227.0 394.8 L1227.5 398.2 L1228.0 401.7 L1228.5 405.1 L1229.0 408.6 L1229.5 412.0 L1230.0 415.4 L1230.5 418.8 L1231.0 422.0 L1231.5 425.2 L1232.0 428.2 L1232.5 431.1 L1233.0 433.8 L1233.5 436.4 L1234.0 438.7 L1234.5 440.9 L1235.0 442.8 L1235.5 444.4 L1236.0 445.9 L1236.5 447.0 L1237.0 447.9 L1237.5 448.6 L1238.0 448.9 L1238.5 449.0 L1239.0 448.8 L1239.5 448.4 L1240.0 447.7 L1240.5 446.8 L1241.0 445.7 L1241.5 444.3 L1242.0 442.7 L1242.5 441.0 L1243.0 439.0 L1243.5 436.8 L1244.0 434.4 L1244.5 431.9 L1245.0 429.3 L1245.5 426.5 L1246.0 423.6 L1246.5 420.6 L1247.0 417.5 L1247.5 414.4 L1248.0 411.2 L1248.5 408.0 L1249.0 404.7 L1249.5 401.5 L1250.0 398.3 L1250.5 395.2 L1251.0 392.1 L1251.5 389.2 L1252.0 386.3 L1252.5 383.5 L1253.0 380.9 L1253.5 378.4 L1254.0 376.1 L1254.5 373.9 L1255.0 372.0 L1255.5 370.2 L1256.0 368.7 L1256.5 367.4 L1257.0 366.3 L1257.5 365.4 L1258.0 364.8 L1258.5 364.4 L1259.0 364.2 L1259.5 364.4 L1260.0 364.7 L1260.5 365.3 L1261.0 366.1 L1261.5 367.2 L1262.0 368.5 L1262.5 370.0 L1263.0 371.7 L1263.5 373.6 L1264.0 375.7 L1264.5 378.0 L1265.0 380.5 L1265.5 383.1 L1266.0 385.8 L1266.5 388.6 L1267.0 391.6 L1267.5 394.6 L1268.0 397.7 L1268.5 400.9 L1269.0 404.1 L1269.5 407.3 L1270.0 410.5 L1270.5 413.7 L1271.0 416.8 L1271.5 419.9 L1272.0 422.9 L1272.5 425.8 L1273.0 428.6 L1273.5 431.2 L1274.0 433.7 L1274.5 436.1 L1275.0 438.3 L1275.5 440.3 L1276.0 442.1 L1276.5 443.7 L1277.0 445.0 L1277.5 446.2 L1278.0 447.1 L1278.5 447.8 L1279.0 448.3 L1279.5 448.5 L1280.0 448.5 L1280.5 448.2 L1281.0 447.7 L1281.5 446.9 L1282.0 445.9 L1282.5 444.7 L1283.0 443.3 L1283.5 441.6 L1284.0 439.8 L1284.5 437.8 L1285.0 435.5 L1285.5 433.1 L1286.0 430.6 L1286.5 427.9 L1287.0 425.1 L1287.5 422.2 L1288.0 419.2 L1288.5 416.1 L1289.0 413.0 L1289.5 409.8 L1290.0 406.7 L1290.5 403.5 L1291.0 400.3 L1291.5 397.2 L1292.0 394.1 L1292.5 391.1 L1293.0 388.2 L1293.5 385.4 L1294.0 382.7 L1294.5 380.2 L1295.0 377.8 L1295.5 375.6 L1296.0 373.5 L1296.5 371.7 L1297.0 370.0 L1297.5 368.6 L1298.0 367.4 L1298.5 366.4 L1299.0 365.6 L1299.5 365.1 L1300.0 364.8 L1300.5 364.8 L1301.0 365.0 L1301.5 365.4 L1302.0 366.1 L1302.5 367.0 L1303.0 368.1 L1303.5 369.5 L1304.0 371.1 L1304.5 372.8 L1305.0 374.8 L1305.5 377.0 L1306.0 379.3 L1306.5 381.8 L1307.0 384.4 L1307.5 387.1 L1308.0 390.0 L1308.5 393.0 L1309.0 396.0 L1309.5 399.1 L1310.0 402.2 L1310.5 405.4 L1311.0 408.6 L1311.5 411.7 L1312.0 414.8 L1312.5 417.9 L1313.0 420.9 L1313.5 423.8 L1314.0 426.7 L1314.5 429.4 L1315.0 431.9 L1315.5 434.4 L1316.0 436.6 L1316.5 438.7 L1317.0 440.6 L1317.5 442.3 L1318.0 443.8 L1318.5 445.1 L1319.0 446.1 L1319.5 447.0 L1320.0 447.5 L1320.5 447.9 L1321.0 448.0 L1321.5 447.9 L1322.0 447.5 L1322.5 446.9 L1323.0 446.1 L1323.5 445.0 L1324.0 443.7 L1324.5 442.2 L1325.0 440.5 L1325.5 438.6 L1326.0 436.5 L1326.5 434.3 L1327.0 431.8 L1327.5 429.3 L1328.0 426.6 L1328.5 423.8 L1329.0 420.8 L1329.5 417.8 L1330.0 414.8 L1330.5 411.7 L1331.0 408.5 L1331.5 405.4 L1332.0 402.3 L1332.5 399.1 L1333.0 396.1 L1333.5 393.1 L1334.0 390.1 L1334.5 387.3 L1335.0 384.6 L1335.5 382.0 L1336.0 379.5 L1336.5 377.2 L1337.0 375.1 L1337.5 373.2 L1338.0 371.4 L1338.5 369.9 L1339.0 368.5 L1339.5 367.4 L1340.0 366.5 L1340.5 365.9 L1341.0 365.4 L1341.5 365.2 L1342.0 365.3 L1342.5 365.6 L1343.0 366.1 L1343.5 366.9 L1344.0 367.9 L1344.5 369.1 L1345.0 370.5 L1345.5 372.2 L1346.0 374.0 L1346.5 376.0 L1347.0 378.2 L1347.5 380.6 L1348.0 383.1 L1348.5 385.7 L1349.0 388.5 L1349.5 391.4 L1350.0 394.3 L1350.5 397.3 L1351.0 400.4 L1351.5 403.5 L1352.0 406.7 L1352.5 409.8 L1353.0 412.9 L1353.5 416.0 L1354.0 419.0 L1354.5 421.9 L1355.0 424.8 L1355.5 427.5 L1356.0 430.1 L1356.5 432.6 L1357.0 434.9 L1357.5 437.1 L1358.0 439.1 L1358.5 440.9 L1359.0 442.5 L1359.5 443.9 L1360.0 445.1 L1360.5 446.0 L1361.0 446.7 L1361.5 447.2 L1362.0 447.5 L1362.5 447.5 L1363.0 447.3 L1363.5 446.8 L1364.0 446.1 L1364.5 445.2 L1365.0 444.1 L1365.5 442.7 L1366.0 441.1 L1366.5 439.4 L1367.0 437.4 L1367.5 435.3 L1368.0 433.0 L1368.5 430.5 L1369.0 427.9 L1369.5 425.2 L1370.0 422.4 L1370.5 419.5 L1371.0 416.5 L1371.5 413.5 L1372.0 410.4 L1372.5 407.3 L1373.0 404.2 L1373.5 401.1 L1374.0 398.0 L1374.5 395.0 L1375.0 392.1 L1375.5 389.2 L1376.0 386.4 L1376.5 383.8 L1377.0 381.3 L1377.5 378.9 L1378.0 376.7 L1378.5 374.7 L1379.0 372.8 L1379.5 371.2 L1380.0 369.7 L1380.5 368.5 L1381.0 367.5 L1381.5 366.7 L1382.0 366.1 L1382.5 365.8 L1383.0 365.7 L1383.5 365.9 L1384.0 366.3 L1384.5 366.9 L1385.0 367.7 L1385.5 368.8 L1386.0 370.1 L1386.5 371.6 L1387.0 373.3 L1387.5 375.2 L1388.0 377.2 L1388.5 379.5 L1389.0 381.9 L1389.5 384.4 L1390.0 387.1 L1390.5 389.8 L1391.0 392.7 L1391.5 395.7 L1392.0 398.7 L1392.5 401.7 L1393.0 404.8 L1393.5 407.9 L1394.0 411.0 L1394.5 414.0 L1395.0 417.0 L1395.5 420.0 L1396.0 422.9 L1396.5 425.6 L1397.0 428.3 L1397.5 430.8 L1398.0 433.2 L1398.5 435.5 L1399.0 437.5 L1399.5 439.4 L1400.0 441.1 L1400.5 442.6 L1401.0 443.9 L1401.5 445.0 L1402.0 445.8 L1402.5 446.5 L1403.0 446.9 L1403.5 447.0 L1404.0 446.9 L1404.5 446.6 L1405.0 446.1 L1405.5 445.3 L1406.0 444.3 L1406.5 443.1 L1407.0 441.7 L1407.5 440.1 L1408.0 438.2 L1408.5 436.2 L1409.0 434.1 L1409.5 431.7 L1410.0 429.2 L1410.5 426.6 L1411.0 423.9 L1411.5 421.1 L1412.0 418.2 L1412.5 415.2 L1413.0 412.2 L1413.5 409.1 L1414.0 406.0 L1414.5 403.0 L1415.0 399.9 L1415.5 396.9 L1416.0 394.0 L1416.5 391.1 L1417.0 388.3 L1417.5 385.6 L1418.0 383.1 L1418.5 380.6 L1419.0 378.4 L1419.5 376.3 L1420.0 374.3 L1420.5 372.6 L1421.0 371.0 L1421.5 369.7 L1422.0 368.5 L1422.5 367.6 L1423.0 366.9 L1423.5 366.5 L1424.0 366.3 L1424.5 366.3 L1425.0 366.5 L1425.5 367.0 L1426.0 367.7 L1426.5 368.6 L1427.0 369.7 L1427.5 371.1 L1428.0 372.6 L1428.5 374.4 L1429.0 376.3 L1429.5 378.5 L1430.0 380.7 L1430.5 383.1 L1431.0 385.7 L1431.5 388.4 L1432.0 391.2 L1432.5 394.0 L1433.0 397.0 L1433.5 400.0 L1434.0 403.0 L1434.5 406.0 L1435.0 409.1 L1435.5 412.1 L1436.0 415.1 L1436.5 418.1 L1437.0 421.0 L1437.5 423.8 L1438.0 426.5 L1438.5 429.0 L1439.0 431.5 L1439.5 433.8 L1440.0 436.0 L1440.5 437.9 L1441.0 439.7 L1441.5 441.3 L1442.0 442.7 L1442.5 443.9 L1443.0 444.9 L1443.5 445.6 L1444.0 446.2 L1444.5 446.5 L1445.0 446.5 L1445.5 446.3 L1446.0 445.9 L1446.5 445.3 L1447.0 444.5 L1447.5 443.4 L1448.0 442.1 L1448.5 440.6 L1449.0 438.9 L1449.5 437.1 L1450.0 435.0 L1450.5 432.8 L1451.0 430.4 L1451.5 427.9 L1452.0 425.3 L1452.5 422.6 L1453.0 419.8 L1453.5 416.9 L1454.0 413.9 L1454.5 410.9 L1455.0 407.9 L1455.5 404.8 L1456.0 401.8 L1456.5 398.8 L1457.0 395.9 L1457.5 393.0 L1458.0 390.2 L1458.5 387.5 L1459.0 384.8 L1459.5 382.4 L1460.0 380.0 L1460.5 377.9 L1461.0 375.8 L1461.5 374.0 L1462.0 372.4 L1462.5 370.9 L1463.0 369.7 L1463.5 368.6 L1464.0 367.8 L1464.5 367.2 L1465.0 366.9 L1465.5 366.7 L1466.0 366.8 L1466.5 367.2 L1467.0 367.7 L1467.5 368.5 L1468.0 369.5 L1468.5 370.7 L1469.0 372.1 L1469.5 373.7 L1470.0 375.5 L1470.5 377.5 L1471.0 379.7 L1471.5 382.0 L1472.0 384.4 L1472.5 387.0 L1473.0 389.7 L1473.5 392.5 L1474.0 395.3 L1474.5 398.3 L1475.0 401.2 L1475.5 404.2 L1476.0 407.3 L1476.5 410.3 L1477.0 413.3 L1477.5 416.2 L1478.0 419.1 L1478.5 421.9 L1479.0 424.6 L1479.5 427.3 L1480.0 429.8 L1480.5 432.1 L1481.0 434.3 L1481.5 436.4 L1482.0 438.3 L1482.5 440.0 L1483.0 441.5 L1483.5 442.8 L1484.0 443.9 L1484.5 444.7 L1485.0 445.4 L1485.5 445.8 L1486.0 446.0 L1486.5 446.0 L1487.0 445.7 L1487.5 445.2 L1488.0 444.5 L1488.5 443.6 L1489.0 442.5 L1489.5 441.1 L1490.0 439.6 L1490.5 437.8 L1491.0 435.9 L1491.5 433.8 L1492.0 431.6 L1492.5 429.2 L1493.0 426.7 L1493.5 424.0 L1494.0 421.3 L1494.5 418.5 L1495.0 415.6 L1495.5 412.6 L1496.0 409.6 L1496.5 406.6 L1497.0 403.7 L1497.5 400.7 L1498.0 397.7 L1498.5 394.8 L1499.0 392.0 L1499.5 389.3 L1500.0 386.6 L1500.5 384.1 L1501.0 381.7 L1501.5 379.5 L1502.0 377.4 L1502.5 375.5 L1503.0 373.7 L1503.5 372.2 L1504.0 370.8 L1504.5 369.7 L1505.0 368.7 L1505.5 368.0 L1506.0 367.5 L1506.5 367.3 L1507.0 367.2 L1507.5 367.4 L1508.0 367.8 L1508.5 368.5 L1509.0 369.3 L1509.5 370.4 L1510.0 371.7 L1510.5 373.2 L1511.0 374.8 L1511.5 376.7 L1512.0 378.7 L1512.5 380.9 L1513.0 383.2 L1513.5 385.7 L1514.0 388.3 L1514.5 391.0 L1515.0 393.8 L1515.5 396.6 L1516.0 399.5 L1516.5 402.5 L1517.0 405.5 L1517.5 408.4 L1518.0 411.4 L1518.5 414.3 L1519.0 417.2 L1519.5 420.1 L1520.0 422.8 L1520.5 425.5 L1521.0 428.0 L1521.5 430.4 L1522.0 432.7 L1522.5 434.8 L1523.0 436.8 L1523.5 438.6 L1524.0 440.2 L1524.5 441.6 L1525.0 442.8 L1525.5 443.8 L1526.0 444.5 L1526.5 445.1 L1527.0 445.4 L1527.5 445.5 L1528.0 445.4 L1528.5 445.1 L1529.0 444.5 L1529.5 443.7 L1530.0 442.7 L1530.5 441.5 L1531.0 440.1 L1531.5 438.5 L1532.0 436.7 L1532.5 434.7 L1533.0 432.6 L1533.5 430.3 L1534.0 427.9 L1534.5 425.4 L1535.0 422.7" stroke="#ff4810" stroke-width="3" fill="none" stroke-linejoin="round"/>
<path d="M1032.5 647.0 L1060.0 646.6 L1090.0 646.2 L1094.0 645.7 L1096.5 644.6 L1098.0 642.5 L1099.2 638.0 L1101.9 380.0 L1102.4 373.6 L1102.5 373.5 L1103.0 373.5 L1103.5 373.4 L1104.0 373.3 L1104.5 373.2 L1105.0 373.2 L1105.5 373.1 L1106.0 373.0 L1106.5 372.9 L1107.0 372.9 L1107.5 372.8 L1108.0 372.7 L1108.5 372.6 L1109.0 372.6 L1109.5 372.5 L1110.0 372.4 L1110.5 372.3 L1111.0 372.3 L1111.5 372.2 L1112.0 372.1 L1112.5 372.0 L1113.0 372.0 L1113.5 371.9 L1114.0 371.8 L1114.5 371.7 L1115.0 371.7 L1115.5 371.6 L1116.0 371.5 L1116.5 371.4 L1117.0 371.4 L1117.5 371.3 L1118.0 371.2 L1118.5 371.2 L1119.0 371.1 L1119.5 371.0 L1120.0 370.9 L1120.5 370.9 L1121.0 370.8 L1121.5 370.7 L1122.0 370.7 L1122.5 370.6 L1123.0 370.5 L1123.5 370.4 L1124.0 370.4 L1124.5 370.3 L1125.0 370.2 L1125.5 370.2 L1126.0 370.1 L1126.5 370.0 L1127.0 369.9 L1127.5 369.9 L1128.0 369.8 L1128.5 369.7 L1129.0 369.7 L1129.5 369.6 L1130.0 369.5 L1130.5 369.4 L1131.0 369.4 L1131.5 369.3 L1132.0 369.2 L1132.5 369.2 L1133.0 369.1 L1133.5 369.0 L1134.0 369.0 L1134.5 368.9 L1135.0 368.8 L1135.5 368.8 L1136.0 368.7 L1136.5 368.6 L1137.0 368.6 L1137.5 368.5 L1138.0 368.4 L1138.5 368.4 L1139.0 368.3 L1139.5 368.2 L1140.0 368.2 L1140.5 368.1 L1141.0 368.0 L1141.5 368.0 L1142.0 367.9 L1142.5 367.8 L1143.0 367.8 L1143.5 367.7 L1144.0 367.7 L1144.5 367.6 L1145.0 367.5 L1145.5 367.5 L1146.0 367.4 L1146.5 367.3 L1147.0 367.3 L1147.5 367.2 L1148.0 367.2 L1148.5 367.1 L1149.0 367.0 L1149.5 367.0 L1150.0 366.9 L1150.5 366.9 L1151.0 366.8 L1151.5 366.7 L1152.0 366.7 L1152.5 366.6 L1153.0 366.6 L1153.5 366.5 L1154.0 366.5 L1154.5 366.4 L1155.0 366.3 L1155.5 366.3 L1156.0 366.2 L1156.5 366.2 L1157.0 366.1 L1157.5 366.1 L1158.0 366.0 L1158.5 366.0 L1159.0 365.9 L1159.5 365.8 L1160.0 365.8 L1160.5 365.7 L1161.0 365.7 L1161.5 365.6 L1162.0 365.6 L1162.5 365.5 L1163.0 365.5 L1163.5 365.4 L1164.0 365.4 L1164.5 365.3 L1165.0 365.3 L1165.5 365.2 L1166.0 365.2 L1166.5 365.1 L1167.0 365.1 L1167.5 365.0 L1168.0 365.0 L1168.5 364.9 L1169.0 364.9 L1169.5 364.9 L1170.0 364.8 L1170.5 364.8 L1171.0 364.7 L1171.5 364.7 L1172.0 364.6 L1172.5 364.6 L1173.0 364.5 L1173.5 364.5 L1174.0 364.5 L1174.5 364.4 L1175.0 364.4 L1175.5 364.3 L1176.0 364.3 L1176.5 364.2 L1177.0 364.2 L1177.5 364.2 L1178.0 364.1 L1178.5 364.1 L1179.0 364.1 L1179.5 364.0 L1180.0 364.0 L1180.5 363.9 L1181.0 363.9 L1181.5 363.9 L1182.0 363.8 L1182.5 363.8 L1183.0 363.8 L1183.5 363.7 L1184.0 363.7 L1184.5 363.7 L1185.0 363.6 L1185.5 363.6 L1186.0 363.6 L1186.5 363.5 L1187.0 363.5 L1187.5 363.5 L1188.0 363.4 L1188.5 363.4 L1189.0 363.4 L1189.5 363.4 L1190.0 363.3 L1190.5 363.3 L1191.0 363.3 L1191.5 363.2 L1192.0 363.2 L1192.5 363.2 L1193.0 363.2 L1193.5 363.1 L1194.0 363.1 L1194.5 363.1 L1195.0 363.1 L1195.5 363.0 L1196.0 363.0 L1196.5 363.0 L1197.0 363.0 L1197.5 363.0 L1198.0 362.9 L1198.5 362.9 L1199.0 362.9 L1199.5 362.9 L1200.0 362.9 L1200.5 362.8 L1201.0 362.8 L1201.5 362.8 L1202.0 362.8 L1202.5 362.8 L1203.0 362.7 L1203.5 362.7 L1204.0 362.7 L1204.5 362.7 L1205.0 362.7 L1205.5 362.7 L1206.0 362.7 L1206.5 362.7 L1207.0 362.6 L1207.5 362.6 L1208.0 362.6 L1208.5 362.6 L1209.0 362.6 L1209.5 362.6 L1210.0 362.6 L1210.5 362.6 L1211.0 362.6 L1211.5 362.6 L1212.0 362.5 L1212.5 362.5 L1213.0 362.5 L1213.5 362.5 L1214.0 362.5 L1214.5 362.5 L1215.0 362.5 L1215.5 362.5 L1216.0 362.5 L1216.5 362.5 L1217.0 362.5 L1217.5 362.5 L1218.0 362.5 L1218.5 362.5 L1219.0 362.5 L1219.5 362.8 L1220.0 363.3 L1220.5 364.2 L1221.0 365.3 L1221.5 366.6 L1222.0 368.3 L1222.5 370.2 L1223.0 372.3 L1223.5 374.6 L1224.0 377.1 L1224.5 379.9 L1225.0 382.8 L1225.5 385.8 L1226.0 388.9 L1226.5 392.2 L1227.0 395.5 L1227.5 398.9 L1228.0 402.4 L1228.5 405.8 L1229.0 409.2 L1229.5 412.6 L1230.0 415.9 L1230.5 419.1 L1231.0 422.2 L1231.5 425.2 L1232.0 428.0 L1232.5 430.7 L1233.0 433.2 L1233.5 435.4 L1234.0 437.4 L1234.5 439.2 L1235.0 440.7 L1235.5 442.0 L1236.0 443.0 L1236.5 443.7 L1237.0 444.2 L1237.5 444.3 L1238.0 444.0 L1238.5 443.4 L1239.0 442.6 L1239.5 441.6 L1240.0 440.4 L1240.5 439.0 L1241.0 437.4 L1241.5 435.6 L1242.0 433.7 L1242.5 431.6 L1243.0 429.4 L1243.5 427.0 L1244.0 424.6 L1244.5 422.1 L1245.0 419.5 L1245.5 416.9 L1246.0 414.2 L1246.5 411.5 L1247.0 408.8 L1247.5 406.1 L1248.0 403.5 L1248.5 400.9 L1249.0 398.4 L1249.5 396.0 L1250.0 393.7 L1250.5 391.5 L1251.0 389.4 L1251.5 387.5 L1252.0 385.7 L1252.5 384.1 L1253.0 382.6 L1253.5 381.3 L1254.0 380.2 L1254.5 379.3 L1255.0 378.5 L1255.5 378.0 L1256.0 377.7 L1256.5 377.5 L1257.0 377.6 L1257.5 377.8 L1258.0 378.2 L1258.5 378.8 L1259.0 379.6 L1259.5 380.6 L1260.0 381.7 L1260.5 382.9 L1261.0 384.4 L1261.5 385.9 L1262.0 387.6 L1262.5 389.3 L1263.0 391.2 L1263.5 393.1 L1264.0 395.2 L1264.5 397.2 L1265.0 399.4 L1265.5 401.5 L1266.0 403.7 L1266.5 405.8 L1267.0 408.0 L1267.5 410.1 L1268.0 412.1 L1268.5 414.2 L1269.0 416.1 L1269.5 418.0 L1270.0 419.8 L1270.5 421.5 L1271.0 423.0 L1271.5 424.5 L1272.0 425.8 L1272.5 427.0 L1273.0 428.1 L1273.5 429.0 L1274.0 429.7 L1274.5 430.3 L1275.0 430.8 L1275.5 431.1 L1276.0 431.2 L1276.5 431.2 L1277.0 431.0 L1277.5 430.7 L1278.0 430.2 L1278.5 429.6 L1279.0 428.9 L1279.5 428.0 L1280.0 427.0 L1280.5 425.9 L1281.0 424.7 L1281.5 423.3 L1282.0 421.9 L1282.5 420.4 L1283.0 418.9 L1283.5 417.3 L1284.0 415.6 L1284.5 413.9 L1285.0 412.2 L1285.5 410.5 L1286.0 408.7 L1286.5 407.0 L1287.0 405.3 L1287.5 403.6 L1288.0 402.0 L1288.5 400.4 L1289.0 398.9 L1289.5 397.5 L1290.0 396.1 L1290.5 394.8 L1291.0 393.6 L1291.5 392.6 L1292.0 391.6 L1292.5 390.7 L1293.0 390.0 L1293.5 389.4 L1294.0 388.9 L1294.5 388.5 L1295.0 388.2 L1295.5 388.1 L1296.0 388.1 L1296.5 388.2 L1297.0 388.5 L1297.5 388.8 L1298.0 389.3 L1298.5 389.9 L1299.0 390.6 L1299.5 391.4 L1300.0 392.3 L1300.5 393.2 L1301.0 394.3 L1301.5 395.4 L1302.0 396.6 L1302.5 397.8 L1303.0 399.1 L1303.5 400.5 L1304.0 401.8 L1304.5 403.2 L1305.0 404.6 L1305.5 406.0 L1306.0 407.4 L1306.5 408.7 L1307.0 410.1 L1307.5 411.4 L1308.0 412.7 L1308.5 413.9 L1309.0 415.0 L1309.5 416.2 L1310.0 417.2 L1310.5 418.1 L1311.0 419.0 L1311.5 419.8 L1312.0 420.5 L1312.5 421.1 L1313.0 421.6 L1313.5 422.1 L1314.0 422.4 L1314.5 422.6 L1315.0 422.7 L1315.5 422.7 L1316.0 422.6 L1316.5 422.5 L1317.0 422.2 L1317.5 421.8 L1318.0 421.4 L1318.5 420.8 L1319.0 420.2 L1319.5 419.5 L1320.0 418.7 L1320.5 417.9 L1321.0 417.0 L1321.5 416.0 L1322.0 415.0 L1322.5 414.0 L1323.0 412.9 L1323.5 411.8 L1324.0 410.7 L1324.5 409.6 L1325.0 408.5 L1325.5 407.4 L1326.0 406.3 L1326.5 405.2 L1327.0 404.2 L1327.5 403.1 L1328.0 402.1 L1328.5 401.2 L1329.0 400.3 L1329.5 399.5 L1330.0 398.7 L1330.5 398.0 L1331.0 397.3 L1331.5 396.7 L1332.0 396.2 L1332.5 395.8 L1333.0 395.5 L1333.5 395.2 L1334.0 395.0 L1334.5 394.9 L1335.0 394.9 L1335.5 395.0 L1336.0 395.1 L1336.5 395.3 L1337.0 395.6 L1337.5 396.0 L1338.0 396.4 L1338.5 396.9 L1339.0 397.4 L1339.5 398.0 L1340.0 398.7 L1340.5 399.4 L1341.0 400.2 L1341.5 401.0 L1342.0 401.8 L1342.5 402.7 L1343.0 403.5 L1343.5 404.4 L1344.0 405.3 L1344.5 406.2 L1345.0 407.1 L1345.5 408.0 L1346.0 408.9 L1346.5 409.7 L1347.0 410.5 L1347.5 411.3 L1348.0 412.1 L1348.5 412.8 L1349.0 413.5 L1349.5 414.1 L1350.0 414.7 L1350.5 415.2 L1351.0 415.7 L1351.5 416.1 L1352.0 416.5 L1352.5 416.8 L1353.0 417.0 L1353.5 417.1 L1354.0 417.2 L1354.5 417.3 L1355.0 417.2 L1355.5 417.1 L1356.0 417.0 L1356.5 416.7 L1357.0 416.5 L1357.5 416.1 L1358.0 415.7 L1358.5 415.3 L1359.0 414.8 L1359.5 414.3 L1360.0 413.7 L1360.5 413.1 L1361.0 412.5 L1361.5 411.8 L1362.0 411.1 L1362.5 410.4 L1363.0 409.7 L1363.5 409.0 L1364.0 408.3 L1364.5 407.5 L1365.0 406.8 L1365.5 406.1 L1366.0 405.4 L1366.5 404.8 L1367.0 404.1 L1367.5 403.5 L1368.0 402.9 L1368.5 402.4 L1369.0 401.9 L1369.5 401.4 L1370.0 401.0 L1370.5 400.6 L1371.0 400.2 L1371.5 400.0 L1372.0 399.7 L1372.5 399.5 L1373.0 399.4 L1373.5 399.3 L1374.0 399.3 L1374.5 399.3 L1375.0 399.4 L1375.5 399.5 L1376.0 399.7 L1376.5 399.9 L1377.0 400.2 L1377.5 400.5 L1378.0 400.8 L1378.5 401.2 L1379.0 401.6 L1379.5 402.1 L1380.0 402.6 L1380.5 403.1 L1381.0 403.6 L1381.5 404.2 L1382.0 404.7 L1382.5 405.3 L1383.0 405.9 L1383.5 406.4 L1384.0 407.0 L1384.5 407.6 L1385.0 408.2 L1385.5 408.7 L1386.0 409.3 L1386.5 409.8 L1387.0 410.3 L1387.5 410.7 L1388.0 411.2 L1388.5 411.6 L1389.0 412.0 L1389.5 412.3 L1390.0 412.7 L1390.5 412.9 L1391.0 413.2 L1391.5 413.4 L1392.0 413.5 L1392.5 413.6 L1393.0 413.7 L1393.5 413.7 L1394.0 413.7 L1394.5 413.7 L1395.0 413.6 L1395.5 413.4 L1396.0 413.3 L1396.5 413.0 L1397.0 412.8 L1397.5 412.5 L1398.0 412.2 L1398.5 411.9 L1399.0 411.5 L1399.5 411.1 L1400.0 410.7 L1400.5 410.3 L1401.0 409.9 L1401.5 409.4 L1402.0 409.0 L1402.5 408.5 L1403.0 408.0 L1403.5 407.6 L1404.0 407.1 L1404.5 406.7 L1405.0 406.2 L1405.5 405.8 L1406.0 405.4 L1406.5 405.0 L1407.0 404.6 L1407.5 404.2 L1408.0 403.9 L1408.5 403.6 L1409.0 403.3 L1409.5 403.0 L1410.0 402.8 L1410.5 402.6 L1411.0 402.4 L1411.5 402.3 L1412.0 402.2 L1412.5 402.2 L1413.0 402.1 L1413.5 402.1 L1414.0 402.2 L1414.5 402.3 L1415.0 402.4 L1415.5 402.5 L1416.0 402.7 L1416.5 402.9 L1417.0 403.1 L1417.5 403.3 L1418.0 403.6 L1418.5 403.9 L1419.0 404.2 L1419.5 404.5 L1420.0 404.8 L1420.5 405.2 L1421.0 405.5 L1421.5 405.9 L1422.0 406.3 L1422.5 406.7 L1423.0 407.0 L1423.5 407.4 L1424.0 407.8 L1424.5 408.1 L1425.0 408.5 L1425.5 408.8 L1426.0 409.1 L1426.5 409.4 L1427.0 409.7 L1427.5 410.0 L1428.0 410.3 L1428.5 410.5 L1429.0 410.7 L1429.5 410.9 L1430.0 411.0 L1430.5 411.2 L1431.0 411.3 L1431.5 411.4 L1432.0 411.4 L1432.5 411.4 L1433.0 411.4 L1433.5 411.4 L1434.0 411.4 L1434.5 411.3 L1435.0 411.2 L1435.5 411.0 L1436.0 410.9 L1436.5 410.7 L1437.0 410.5 L1437.5 410.3 L1438.0 410.1 L1438.5 409.8 L1439.0 409.6 L1439.5 409.3 L1440.0 409.0 L1440.5 408.8 L1441.0 408.5 L1441.5 408.2 L1442.0 407.9 L1442.5 407.6 L1443.0 407.3 L1443.5 407.0 L1444.0 406.7 L1444.5 406.4 L1445.0 406.1 L1445.5 405.9 L1446.0 405.6 L1446.5 405.4 L1447.0 405.1 L1447.5 404.9 L1448.0 404.8 L1448.5 404.6 L1449.0 404.4 L1449.5 404.3 L1450.0 404.2 L1450.5 404.1 L1451.0 404.0 L1451.5 404.0 L1452.0 404.0 L1452.5 404.0 L1453.0 404.0 L1453.5 404.0 L1454.0 404.1 L1454.5 404.2 L1455.0 404.3 L1455.5 404.4 L1456.0 404.5 L1456.5 404.7 L1457.0 404.9 L1457.5 405.0 L1458.0 405.2 L1458.5 405.4 L1459.0 405.7 L1459.5 405.9 L1460.0 406.1 L1460.5 406.3 L1461.0 406.6 L1461.5 406.8 L1462.0 407.1 L1462.5 407.3 L1463.0 407.5 L1463.5 407.8 L1464.0 408.0 L1464.5 408.2 L1465.0 408.4 L1465.5 408.6 L1466.0 408.8 L1466.5 409.0 L1467.0 409.2 L1467.5 409.3 L1468.0 409.5 L1468.5 409.6 L1469.0 409.7 L1469.5 409.8 L1470.0 409.9 L1470.5 409.9 L1471.0 409.9 L1471.5 410.0 L1472.0 410.0 L1472.5 410.0 L1473.0 409.9 L1473.5 409.9 L1474.0 409.8 L1474.5 409.7 L1475.0 409.6 L1475.5 409.5 L1476.0 409.4 L1476.5 409.3 L1477.0 409.1 L1477.5 409.0 L1478.0 408.8 L1478.5 408.6 L1479.0 408.5 L1479.5 408.3 L1480.0 408.1 L1480.5 407.9 L1481.0 407.7 L1481.5 407.5 L1482.0 407.3 L1482.5 407.1 L1483.0 406.9 L1483.5 406.8 L1484.0 406.6 L1484.5 406.4 L1485.0 406.2 L1485.5 406.1 L1486.0 405.9 L1486.5 405.8 L1487.0 405.7 L1487.5 405.6 L1488.0 405.5 L1488.5 405.4 L1489.0 405.3 L1489.5 405.3 L1490.0 405.2 L1490.5 405.2 L1491.0 405.2 L1491.5 405.2 L1492.0 405.2 L1492.5 405.2 L1493.0 405.2 L1493.5 405.3 L1494.0 405.3 L1494.5 405.4 L1495.0 405.5 L1495.5 405.6 L1496.0 405.7 L1496.5 405.8 L1497.0 405.9 L1497.5 406.1 L1498.0 406.2 L1498.5 406.3 L1499.0 406.5 L1499.5 406.6 L1500.0 406.8 L1500.5 406.9 L1501.0 407.1 L1501.5 407.3 L1502.0 407.4 L1502.5 407.6 L1503.0 407.7 L1503.5 407.9 L1504.0 408.0 L1504.5 408.1 L1505.0 408.3 L1505.5 408.4 L1506.0 408.5 L1506.5 408.6 L1507.0 408.7 L1507.5 408.8 L1508.0 408.8 L1508.5 408.9 L1509.0 408.9 L1509.5 409.0 L1510.0 409.0 L1510.5 409.0 L1511.0 409.0 L1511.5 409.0 L1512.0 409.0 L1512.5 409.0 L1513.0 408.9 L1513.5 408.9 L1514.0 408.8 L1514.5 408.8 L1515.0 408.7 L1515.5 408.6 L1516.0 408.5 L1516.5 408.4 L1517.0 408.3 L1517.5 408.2 L1518.0 408.1 L1518.5 408.0 L1519.0 407.8 L1519.5 407.7 L1520.0 407.6 L1520.5 407.5 L1521.0 407.3 L1521.5 407.2 L1522.0 407.1 L1522.5 407.0 L1523.0 406.9 L1523.5 406.8 L1524.0 406.6 L1524.5 406.5 L1525.0 406.5 L1525.5 406.4 L1526.0 406.3 L1526.5 406.2 L1527.0 406.1 L1527.5 406.1 L1528.0 406.0 L1528.5 406.0 L1529.0 406.0 L1529.5 405.9 L1530.0 405.9 L1530.5 405.9 L1531.0 405.9 L1531.5 405.9 L1532.0 406.0 L1532.5 406.0 L1533.0 406.0 L1533.5 406.1 L1534.0 406.1 L1534.5 406.2 L1535.0 406.2" stroke="#00ff00" stroke-width="3" fill="none" stroke-linejoin="round"/>
<path d="M1034.0 104.5 L1096.0 104.5 L1097.6 104.5 L1099.2 282.0 L1100.6 240.0 L1101.6 200.0 L1102.3 160.0 L1102.6 120.0 L1102.7 85.5 L1103.2 104.5 L1104.0 104.5 L1104.5 104.5 L1105.0 104.5 L1105.5 104.5 L1106.0 104.5 L1106.5 104.5 L1107.0 104.5 L1107.5 104.5 L1108.0 104.5 L1108.5 104.5 L1109.0 104.5 L1109.5 104.5 L1110.0 104.5 L1110.5 104.5 L1111.0 104.5 L1111.5 104.5 L1112.0 104.5 L1112.5 104.5 L1113.0 104.5 L1113.5 104.5 L1114.0 104.5 L1114.5 104.5 L1115.0 104.5 L1115.5 104.5 L1116.0 104.5 L1116.5 104.5 L1117.0 104.5 L1117.5 104.5 L1118.0 104.5 L1118.5 104.5 L1119.0 104.5 L1119.5 104.5 L1120.0 104.5 L1120.5 104.5 L1121.0 104.5 L1121.5 104.5 L1122.0 104.5 L1122.5 104.5 L1123.0 104.5 L1123.5 104.5 L1124.0 104.5 L1124.5 104.5 L1125.0 104.5 L1125.5 104.5 L1126.0 104.5 L1126.5 104.5 L1127.0 104.5 L1127.5 104.5 L1128.0 104.5 L1128.5 104.5 L1129.0 104.5 L1129.5 104.5 L1130.0 104.5 L1130.5 104.5 L1131.0 104.5 L1131.5 104.5 L1132.0 104.5 L1132.5 104.5 L1133.0 104.5 L1133.5 104.5 L1134.0 104.5 L1134.5 104.5 L1135.0 104.5 L1135.5 104.5 L1136.0 104.5 L1136.5 104.5 L1137.0 104.5 L1137.5 104.5 L1138.0 104.5 L1138.5 104.5 L1139.0 104.5 L1139.5 104.5 L1140.0 104.5 L1140.5 104.5 L1141.0 104.5 L1141.5 104.5 L1142.0 104.5 L1142.5 104.5 L1143.0 104.5 L1143.5 104.5 L1144.0 104.5 L1144.5 104.5 L1145.0 104.5 L1145.5 104.5 L1146.0 104.5 L1146.5 104.5 L1147.0 104.5 L1147.5 104.5 L1148.0 104.5 L1148.5 104.5 L1149.0 104.5 L1149.5 104.5 L1150.0 104.5 L1150.5 104.5 L1151.0 104.5 L1151.5 104.5 L1152.0 104.5 L1152.5 104.5 L1153.0 104.5 L1153.5 104.5 L1154.0 104.5 L1154.5 104.5 L1155.0 104.5 L1155.5 104.5 L1156.0 104.5 L1156.5 104.5 L1157.0 104.5 L1157.5 104.5 L1158.0 104.5 L1158.5 104.5 L1159.0 104.5 L1159.5 104.5 L1160.0 104.5 L1160.5 104.5 L1161.0 104.5 L1161.5 104.5 L1162.0 104.5 L1162.5 104.5 L1163.0 104.5 L1163.5 104.5 L1164.0 104.5 L1164.5 104.5 L1165.0 104.5 L1165.5 104.5 L1166.0 104.5 L1166.5 104.5 L1167.0 104.5 L1167.5 104.5 L1168.0 104.5 L1168.5 104.5 L1169.0 104.5 L1169.5 104.5 L1170.0 104.5 L1170.5 104.5 L1171.0 104.5 L1171.5 104.5 L1172.0 104.5 L1172.5 104.5 L1173.0 104.5 L1173.5 104.5 L1174.0 104.5 L1174.5 104.5 L1175.0 104.5 L1175.5 104.5 L1176.0 104.5 L1176.5 104.5 L1177.0 104.5 L1177.5 104.5 L1178.0 104.5 L1178.5 104.5 L1179.0 104.5 L1179.5 104.5 L1180.0 104.5 L1180.5 104.5 L1181.0 104.5 L1181.5 104.5 L1182.0 104.5 L1182.5 104.5 L1183.0 104.5 L1183.5 104.5 L1184.0 104.5 L1184.5 104.5 L1185.0 104.5 L1185.5 104.5 L1186.0 104.5 L1186.5 104.5 L1187.0 104.5 L1187.5 104.5 L1188.0 104.5 L1188.5 104.5 L1189.0 104.5 L1189.5 104.5 L1190.0 104.5 L1190.5 104.5 L1191.0 104.5 L1191.5 104.5 L1192.0 104.5 L1192.5 104.5 L1193.0 104.5 L1193.5 104.5 L1194.0 104.5 L1194.5 104.5 L1195.0 104.5 L1195.5 104.5 L1196.0 104.5 L1196.5 104.5 L1197.0 104.5 L1197.5 104.5 L1198.0 104.5 L1198.5 104.5 L1199.0 104.5 L1199.5 104.5 L1200.0 104.5 L1200.5 104.5 L1201.0 104.5 L1201.5 104.5 L1202.0 104.5 L1202.5 104.5 L1203.0 104.5 L1203.5 104.5 L1204.0 104.5 L1204.5 104.5 L1205.0 104.5 L1205.5 104.5 L1206.0 104.5 L1206.5 104.5 L1207.0 104.5 L1207.5 104.5 L1208.0 104.5 L1208.5 104.5 L1209.0 104.5 L1209.5 104.5 L1210.0 104.5 L1210.5 104.5 L1211.0 104.5 L1211.5 104.5 L1212.0 104.5 L1212.5 104.5 L1213.0 104.5 L1213.5 104.5 L1214.0 104.5 L1214.5 104.5 L1215.0 104.5 L1215.5 104.5 L1216.0 104.5 L1216.5 104.5 L1217.0 104.5 L1217.5 104.5 L1218.0 104.5 L1218.5 104.5 L1219.0 104.4 L1219.5 103.8 L1220.0 103.3 L1220.5 102.8 L1221.0 102.3 L1221.5 101.8 L1222.0 101.3 L1222.5 100.8 L1223.0 100.4 L1223.5 100.0 L1224.0 99.6 L1224.5 99.2 L1225.0 98.9 L1225.5 98.6 L1226.0 98.3 L1226.5 98.1 L1227.0 97.9 L1227.5 97.7 L1228.0 97.6 L1228.5 97.5 L1229.0 97.5 L1229.5 97.5 L1230.0 97.6 L1230.5 97.6 L1231.0 97.8 L1231.5 97.9 L1232.0 98.1 L1232.5 98.4 L1233.0 98.6 L1233.5 98.9 L1234.0 99.3 L1234.5 99.7 L1235.0 100.1 L1235.5 100.5 L1236.0 100.9 L1236.5 101.4 L1237.0 101.9 L1237.5 102.4 L1238.0 102.9 L1238.5 103.4 L1239.0 103.9 L1239.5 104.5 L1240.0 105.0 L1240.5 105.5 L1241.0 106.1 L1241.5 106.6 L1242.0 107.1 L1242.5 107.6 L1243.0 108.0 L1243.5 108.5 L1244.0 108.9 L1244.5 109.3 L1245.0 109.7 L1245.5 110.0 L1246.0 110.3 L1246.5 110.6 L1247.0 110.9 L1247.5 111.1 L1248.0 111.2 L1248.5 111.4 L1249.0 111.4 L1249.5 111.5 L1250.0 111.5 L1250.5 111.5 L1251.0 111.4 L1251.5 111.3 L1252.0 111.1 L1252.5 110.9 L1253.0 110.7 L1253.5 110.4 L1254.0 110.2 L1254.5 109.8 L1255.0 109.5 L1255.5 109.1 L1256.0 108.7 L1256.5 108.2 L1257.0 107.8 L1257.5 107.3 L1258.0 106.8 L1258.5 106.3 L1259.0 105.7 L1259.5 105.2 L1260.0 104.7 L1260.5 104.2 L1261.0 103.6 L1261.5 103.1 L1262.0 102.6 L1262.5 102.1 L1263.0 101.6 L1263.5 101.1 L1264.0 100.7 L1264.5 100.2 L1265.0 99.8 L1265.5 99.4 L1266.0 99.1 L1266.5 98.8 L1267.0 98.5 L1267.5 98.2 L1268.0 98.0 L1268.5 97.8 L1269.0 97.7 L1269.5 97.6 L1270.0 97.5 L1270.5 97.5 L1271.0 97.5 L1271.5 97.6 L1272.0 97.7 L1272.5 97.8 L1273.0 98.0 L1273.5 98.2 L1274.0 98.5 L1274.5 98.8 L1275.0 99.1 L1275.5 99.4 L1276.0 99.8 L1276.5 100.2 L1277.0 100.7 L1277.5 101.1 L1278.0 101.6 L1278.5 102.1 L1279.0 102.6 L1279.5 103.1 L1280.0 103.6 L1280.5 104.2 L1281.0 104.7 L1281.5 105.2 L1282.0 105.7 L1282.5 106.3 L1283.0 106.8 L1283.5 107.3 L1284.0 107.8 L1284.5 108.2 L1285.0 108.7 L1285.5 109.1 L1286.0 109.5 L1286.5 109.8 L1287.0 110.2 L1287.5 110.4 L1288.0 110.7 L1288.5 110.9 L1289.0 111.1 L1289.5 111.3 L1290.0 111.4 L1290.5 111.5 L1291.0 111.5 L1291.5 111.5 L1292.0 111.4 L1292.5 111.4 L1293.0 111.2 L1293.5 111.1 L1294.0 110.9 L1294.5 110.6 L1295.0 110.3 L1295.5 110.0 L1296.0 109.7 L1296.5 109.3 L1297.0 108.9 L1297.5 108.5 L1298.0 108.0 L1298.5 107.6 L1299.0 107.1 L1299.5 106.6 L1300.0 106.1 L1300.5 105.5 L1301.0 105.0 L1301.5 104.5 L1302.0 103.9 L1302.5 103.4 L1303.0 102.9 L1303.5 102.4 L1304.0 101.9 L1304.5 101.4 L1305.0 100.9 L1305.5 100.5 L1306.0 100.1 L1306.5 99.7 L1307.0 99.3 L1307.5 98.9 L1308.0 98.6 L1308.5 98.4 L1309.0 98.1 L1309.5 97.9 L1310.0 97.8 L1310.5 97.6 L1311.0 97.6 L1311.5 97.5 L1312.0 97.5 L1312.5 97.5 L1313.0 97.6 L1313.5 97.7 L1314.0 97.9 L1314.5 98.1 L1315.0 98.3 L1315.5 98.6 L1316.0 98.9 L1316.5 99.2 L1317.0 99.6 L1317.5 100.0 L1318.0 100.4 L1318.5 100.8 L1319.0 101.3 L1319.5 101.8 L1320.0 102.3 L1320.5 102.8 L1321.0 103.3 L1321.5 103.8 L1322.0 104.4 L1322.5 104.9 L1323.0 105.4 L1323.5 106.0 L1324.0 106.5 L1324.5 107.0 L1325.0 107.5 L1325.5 107.9 L1326.0 108.4 L1326.5 108.8 L1327.0 109.2 L1327.5 109.6 L1328.0 110.0 L1328.5 110.3 L1329.0 110.6 L1329.5 110.8 L1330.0 111.0 L1330.5 111.2 L1331.0 111.3 L1331.5 111.4 L1332.0 111.5 L1332.5 111.5 L1333.0 111.5 L1333.5 111.4 L1334.0 111.3 L1334.5 111.2 L1335.0 111.0 L1335.5 110.8 L1336.0 110.5 L1336.5 110.2 L1337.0 109.9 L1337.5 109.5 L1338.0 109.1 L1338.5 108.7 L1339.0 108.3 L1339.5 107.8 L1340.0 107.4 L1340.5 106.9 L1341.0 106.4 L1341.5 105.8 L1342.0 105.3 L1342.5 104.8 L1343.0 104.3 L1343.5 103.7 L1344.0 103.2 L1344.5 102.7 L1345.0 102.2 L1345.5 101.7 L1346.0 101.2 L1346.5 100.7 L1347.0 100.3 L1347.5 99.9 L1348.0 99.5 L1348.5 99.1 L1349.0 98.8 L1349.5 98.5 L1350.0 98.3 L1350.5 98.0 L1351.0 97.9 L1351.5 97.7 L1352.0 97.6 L1352.5 97.5 L1353.0 97.5 L1353.5 97.5 L1354.0 97.6 L1354.5 97.7 L1355.0 97.8 L1355.5 98.0 L1356.0 98.2 L1356.5 98.4 L1357.0 98.7 L1357.5 99.0 L1358.0 99.4 L1358.5 99.7 L1359.0 100.1 L1359.5 100.6 L1360.0 101.0 L1360.5 101.5 L1361.0 102.0 L1361.5 102.5 L1362.0 103.0 L1362.5 103.5 L1363.0 104.0 L1363.5 104.6 L1364.0 105.1 L1364.5 105.6 L1365.0 106.2 L1365.5 106.7 L1366.0 107.2 L1366.5 107.7 L1367.0 108.1 L1367.5 108.6 L1368.0 109.0 L1368.5 109.4 L1369.0 109.8 L1369.5 110.1 L1370.0 110.4 L1370.5 110.7 L1371.0 110.9 L1371.5 111.1 L1372.0 111.3 L1372.5 111.4 L1373.0 111.5 L1373.5 111.5 L1374.0 111.5 L1374.5 111.5 L1375.0 111.4 L1375.5 111.3 L1376.0 111.1 L1376.5 110.9 L1377.0 110.7 L1377.5 110.4 L1378.0 110.1 L1378.5 109.8 L1379.0 109.4 L1379.5 109.0 L1380.0 108.6 L1380.5 108.1 L1381.0 107.7 L1381.5 107.2 L1382.0 106.7 L1382.5 106.2 L1383.0 105.6 L1383.5 105.1 L1384.0 104.6 L1384.5 104.0 L1385.0 103.5 L1385.5 103.0 L1386.0 102.5 L1386.5 102.0 L1387.0 101.5 L1387.5 101.0 L1388.0 100.6 L1388.5 100.1 L1389.0 99.7 L1389.5 99.4 L1390.0 99.0 L1390.5 98.7 L1391.0 98.4 L1391.5 98.2 L1392.0 98.0 L1392.5 97.8 L1393.0 97.7 L1393.5 97.6 L1394.0 97.5 L1394.5 97.5 L1395.0 97.5 L1395.5 97.6 L1396.0 97.7 L1396.5 97.9 L1397.0 98.0 L1397.5 98.3 L1398.0 98.5 L1398.5 98.8 L1399.0 99.1 L1399.5 99.5 L1400.0 99.9 L1400.5 100.3 L1401.0 100.7 L1401.5 101.2 L1402.0 101.7 L1402.5 102.2 L1403.0 102.7 L1403.5 103.2 L1404.0 103.7 L1404.5 104.3 L1405.0 104.8 L1405.5 105.3 L1406.0 105.8 L1406.5 106.4 L1407.0 106.9 L1407.5 107.4 L1408.0 107.8 L1408.5 108.3 L1409.0 108.7 L1409.5 109.1 L1410.0 109.5 L1410.5 109.9 L1411.0 110.2 L1411.5 110.5 L1412.0 110.8 L1412.5 111.0 L1413.0 111.2 L1413.5 111.3 L1414.0 111.4 L1414.5 111.5 L1415.0 111.5 L1415.5 111.5 L1416.0 111.4 L1416.5 111.3 L1417.0 111.2 L1417.5 111.0 L1418.0 110.8 L1418.5 110.6 L1419.0 110.3 L1419.5 110.0 L1420.0 109.6 L1420.5 109.2 L1421.0 108.8 L1421.5 108.4 L1422.0 107.9 L1422.5 107.5 L1423.0 107.0 L1423.5 106.5 L1424.0 106.0 L1424.5 105.4 L1425.0 104.9 L1425.5 104.4 L1426.0 103.8 L1426.5 103.3 L1427.0 102.8 L1427.5 102.3 L1428.0 101.8 L1428.5 101.3 L1429.0 100.8 L1429.5 100.4 L1430.0 100.0 L1430.5 99.6 L1431.0 99.2 L1431.5 98.9 L1432.0 98.6 L1432.5 98.3 L1433.0 98.1 L1433.5 97.9 L1434.0 97.7 L1434.5 97.6 L1435.0 97.5 L1435.5 97.5 L1436.0 97.5 L1436.5 97.6 L1437.0 97.6 L1437.5 97.8 L1438.0 97.9 L1438.5 98.1 L1439.0 98.4 L1439.5 98.6 L1440.0 98.9 L1440.5 99.3 L1441.0 99.7 L1441.5 100.1 L1442.0 100.5 L1442.5 100.9 L1443.0 101.4 L1443.5 101.9 L1444.0 102.4 L1444.5 102.9 L1445.0 103.4 L1445.5 103.9 L1446.0 104.5 L1446.5 105.0 L1447.0 105.5 L1447.5 106.1 L1448.0 106.6 L1448.5 107.1 L1449.0 107.6 L1449.5 108.0 L1450.0 108.5 L1450.5 108.9 L1451.0 109.3 L1451.5 109.7 L1452.0 110.0 L1452.5 110.3 L1453.0 110.6 L1453.5 110.9 L1454.0 111.1 L1454.5 111.2 L1455.0 111.4 L1455.5 111.4 L1456.0 111.5 L1456.5 111.5 L1457.0 111.5 L1457.5 111.4 L1458.0 111.3 L1458.5 111.1 L1459.0 110.9 L1459.5 110.7 L1460.0 110.4 L1460.5 110.2 L1461.0 109.8 L1461.5 109.5 L1462.0 109.1 L1462.5 108.7 L1463.0 108.2 L1463.5 107.8 L1464.0 107.3 L1464.5 106.8 L1465.0 106.3 L1465.5 105.7 L1466.0 105.2 L1466.5 104.7 L1467.0 104.2 L1467.5 103.6 L1468.0 103.1 L1468.5 102.6 L1469.0 102.1 L1469.5 101.6 L1470.0 101.1 L1470.5 100.7 L1471.0 100.2 L1471.5 99.8 L1472.0 99.4 L1472.5 99.1 L1473.0 98.8 L1473.5 98.5 L1474.0 98.2 L1474.5 98.0 L1475.0 97.8 L1475.5 97.7 L1476.0 97.6 L1476.5 97.5 L1477.0 97.5 L1477.5 97.5 L1478.0 97.6 L1478.5 97.7 L1479.0 97.8 L1479.5 98.0 L1480.0 98.2 L1480.5 98.5 L1481.0 98.8 L1481.5 99.1 L1482.0 99.4 L1482.5 99.8 L1483.0 100.2 L1483.5 100.7 L1484.0 101.1 L1484.5 101.6 L1485.0 102.1 L1485.5 102.6 L1486.0 103.1 L1486.5 103.6 L1487.0 104.2 L1487.5 104.7 L1488.0 105.2 L1488.5 105.7 L1489.0 106.3 L1489.5 106.8 L1490.0 107.3 L1490.5 107.8 L1491.0 108.2 L1491.5 108.7 L1492.0 109.1 L1492.5 109.5 L1493.0 109.8 L1493.5 110.2 L1494.0 110.4 L1494.5 110.7 L1495.0 110.9 L1495.5 111.1 L1496.0 111.3 L1496.5 111.4 L1497.0 111.5 L1497.5 111.5 L1498.0 111.5 L1498.5 111.4 L1499.0 111.4 L1499.5 111.2 L1500.0 111.1 L1500.5 110.9 L1501.0 110.6 L1501.5 110.3 L1502.0 110.0 L1502.5 109.7 L1503.0 109.3 L1503.5 108.9 L1504.0 108.5 L1504.5 108.0 L1505.0 107.6 L1505.5 107.1 L1506.0 106.6 L1506.5 106.1 L1507.0 105.5 L1507.5 105.0 L1508.0 104.5 L1508.5 103.9 L1509.0 103.4 L1509.5 102.9 L1510.0 102.4 L1510.5 101.9 L1511.0 101.4 L1511.5 100.9 L1512.0 100.5 L1512.5 100.1 L1513.0 99.7 L1513.5 99.3 L1514.0 98.9 L1514.5 98.6 L1515.0 98.4 L1515.5 98.1 L1516.0 97.9 L1516.5 97.8 L1517.0 97.6 L1517.5 97.6 L1518.0 97.5 L1518.5 97.5 L1519.0 97.5 L1519.5 97.6 L1520.0 97.7 L1520.5 97.9 L1521.0 98.1 L1521.5 98.3 L1522.0 98.6 L1522.5 98.9 L1523.0 99.2 L1523.5 99.6 L1524.0 100.0 L1524.5 100.4 L1525.0 100.8 L1525.5 101.3 L1526.0 101.8 L1526.5 102.3 L1527.0 102.8 L1527.5 103.3 L1528.0 103.8 L1528.5 104.4 L1529.0 104.9 L1529.5 105.4 L1530.0 106.0 L1530.5 106.5 L1531.0 107.0 L1531.5 107.5 L1532.0 107.9 L1532.5 108.4 L1533.0 108.8 L1533.5 109.2 L1534.0 109.6 L1534.5 110.0 L1535.0 110.3" stroke="#ff4810" stroke-width="3" fill="none" stroke-linejoin="round"/>
<path d="M1034.0 104.5 L1034.5 104.5 L1035.0 104.5 L1035.5 104.5 L1036.0 104.5 L1036.5 104.5 L1037.0 104.5 L1037.5 104.5 L1038.0 104.5 L1038.5 104.5 L1039.0 104.5 L1039.5 104.5 L1040.0 104.5 L1040.5 104.5 L1041.0 104.5 L1041.5 104.5 L1042.0 104.5 L1042.5 104.5 L1043.0 104.5 L1043.5 104.5 L1044.0 104.5 L1044.5 104.5 L1045.0 104.5 L1045.5 104.5 L1046.0 104.5 L1046.5 104.5 L1047.0 104.5 L1047.5 104.5 L1048.0 104.5 L1048.5 104.5 L1049.0 104.5 L1049.5 104.5 L1050.0 104.5 L1050.5 104.5 L1051.0 104.5 L1051.5 104.5 L1052.0 104.5 L1052.5 104.5 L1053.0 104.5 L1053.5 104.5 L1054.0 104.5 L1054.5 104.5 L1055.0 104.5 L1055.5 104.5 L1056.0 104.5 L1056.5 104.5 L1057.0 104.5 L1057.5 104.5 L1058.0 104.5 L1058.5 104.5 L1059.0 104.5 L1059.5 104.5 L1060.0 104.5 L1060.5 104.5 L1061.0 104.5 L1061.5 104.5 L1062.0 104.5 L1062.5 104.5 L1063.0 104.5 L1063.5 104.5 L1064.0 104.5 L1064.5 104.5 L1065.0 104.5 L1065.5 104.5 L1066.0 104.5 L1066.5 104.5 L1067.0 104.5 L1067.5 104.5 L1068.0 104.5 L1068.5 104.5 L1069.0 104.5 L1069.5 104.5 L1070.0 104.5 L1070.5 104.5 L1071.0 104.5 L1071.5 104.5 L1072.0 104.5 L1072.5 104.5 L1073.0 104.5 L1073.5 104.5 L1074.0 104.5 L1074.5 104.5 L1075.0 104.5 L1075.5 104.5 L1076.0 104.5 L1076.5 104.5 L1077.0 104.5 L1077.5 104.5 L1078.0 104.5 L1078.5 104.5 L1079.0 104.5 L1079.5 104.5 L1080.0 104.5 L1080.5 104.5 L1081.0 104.5 L1081.5 104.5 L1082.0 104.5 L1082.5 104.5 L1083.0 104.5 L1083.5 104.5 L1084.0 104.5 L1084.5 104.5 L1085.0 104.5 L1085.5 104.5 L1086.0 104.5 L1086.5 104.5 L1087.0 104.5 L1087.5 104.5 L1088.0 104.5 L1088.5 104.5 L1089.0 104.5 L1089.5 104.5 L1090.0 104.5 L1090.5 104.5 L1091.0 104.5 L1091.5 104.5 L1092.0 104.5 L1092.5 104.5 L1093.0 104.5 L1093.5 104.5 L1094.0 104.5 L1094.5 104.5 L1095.0 104.5 L1095.5 104.5 L1096.0 104.5 L1096.5 106.2 L1097.0 109.3 L1097.5 113.3 L1098.0 118.1 L1098.5 123.5 L1099.0 129.5 L1099.5 136.0 L1100.0 142.9 L1100.5 150.4 L1101.0 158.2 L1101.5 166.5 L1102.0 169.7 L1102.5 165.2 L1103.0 161.0 L1103.5 157.1 L1104.0 153.5 L1104.5 150.1 L1105.0 147.0 L1105.5 144.1 L1106.0 141.3 L1106.5 138.8 L1107.0 136.4 L1107.5 134.2 L1108.0 132.2 L1108.5 130.3 L1109.0 128.5 L1109.5 126.8 L1110.0 125.3 L1110.5 123.9 L1111.0 122.5 L1111.5 121.3 L1112.0 120.1 L1112.5 119.1 L1113.0 118.0 L1113.5 117.1 L1114.0 116.2 L1114.5 115.4 L1115.0 114.7 L1115.5 114.0 L1116.0 113.3 L1116.5 112.7 L1117.0 112.2 L1117.5 111.6 L1118.0 111.1 L1118.5 110.7 L1119.0 110.2 L1119.5 109.9 L1120.0 109.5 L1120.5 109.1 L1121.0 108.8 L1121.5 108.5 L1122.0 108.2 L1122.5 108.0 L1123.0 107.7 L1123.5 107.5 L1124.0 107.3 L1124.5 107.1 L1125.0 106.9 L1125.5 106.8 L1126.0 106.6 L1126.5 106.5 L1127.0 106.3 L1127.5 106.2 L1128.0 106.1 L1128.5 106.0 L1129.0 105.9 L1129.5 105.8 L1130.0 105.7 L1130.5 105.6 L1131.0 105.5 L1131.5 105.5 L1132.0 105.4 L1132.5 105.3 L1133.0 105.3 L1133.5 105.2 L1134.0 105.2 L1134.5 105.1 L1135.0 105.1 L1135.5 105.0 L1136.0 105.0 L1136.5 105.0 L1137.0 104.9 L1137.5 104.9 L1138.0 104.9 L1138.5 104.9 L1139.0 104.8 L1139.5 104.8 L1140.0 104.8 L1140.5 104.8 L1141.0 104.7 L1141.5 104.7 L1142.0 104.7 L1142.5 104.7 L1143.0 104.7 L1143.5 104.7 L1144.0 104.7 L1144.5 104.7 L1145.0 104.6 L1145.5 104.6 L1146.0 104.6 L1146.5 104.6 L1147.0 104.6 L1147.5 104.6 L1148.0 104.6 L1148.5 104.6 L1149.0 104.6 L1149.5 104.6 L1150.0 104.6 L1150.5 104.6 L1151.0 104.6 L1151.5 104.6 L1152.0 104.6 L1152.5 104.5 L1153.0 104.5 L1153.5 104.5 L1154.0 104.5 L1154.5 104.5 L1155.0 104.5 L1155.5 104.5 L1156.0 104.5 L1156.5 104.5 L1157.0 104.5 L1157.5 104.5 L1158.0 104.5 L1158.5 104.5 L1159.0 104.5 L1159.5 104.5 L1160.0 104.5 L1160.5 104.5 L1161.0 104.5 L1161.5 104.5 L1162.0 104.5 L1162.5 104.5 L1163.0 104.5 L1163.5 104.5 L1164.0 104.5 L1164.5 104.5 L1165.0 104.5 L1165.5 104.5 L1166.0 104.5 L1166.5 104.5 L1167.0 104.5 L1167.5 104.5 L1168.0 104.5 L1168.5 104.5 L1169.0 104.5 L1169.5 104.5 L1170.0 104.5 L1170.5 104.5 L1171.0 104.5 L1171.5 104.5 L1172.0 104.5 L1172.5 104.5 L1173.0 104.5 L1173.5 104.5 L1174.0 104.5 L1174.5 104.5 L1175.0 104.5 L1175.5 104.5 L1176.0 104.5 L1176.5 104.5 L1177.0 104.5 L1177.5 104.5 L1178.0 104.5 L1178.5 104.5 L1179.0 104.5 L1179.5 104.5 L1180.0 104.5 L1180.5 104.5 L1181.0 104.5 L1181.5 104.5 L1182.0 104.5 L1182.5 104.5 L1183.0 104.5 L1183.5 104.5 L1184.0 104.5 L1184.5 104.5 L1185.0 104.5 L1185.5 104.5 L1186.0 104.5 L1186.5 104.5 L1187.0 104.5 L1187.5 104.5 L1188.0 104.5 L1188.5 104.5 L1189.0 104.5 L1189.5 104.5 L1190.0 104.5 L1190.5 104.5 L1191.0 104.5 L1191.5 104.5 L1192.0 104.5 L1192.5 104.5 L1193.0 104.5 L1193.5 104.5 L1194.0 104.5 L1194.5 104.5 L1195.0 104.5 L1195.5 104.5 L1196.0 104.5 L1196.5 104.5 L1197.0 104.5 L1197.5 104.5 L1198.0 104.5 L1198.5 104.5 L1199.0 104.5 L1199.5 104.5 L1200.0 104.5 L1200.5 104.5 L1201.0 104.5 L1201.5 104.5 L1202.0 104.5 L1202.5 104.5 L1203.0 104.5 L1203.5 104.5 L1204.0 104.5 L1204.5 104.5 L1205.0 104.5 L1205.5 104.5 L1206.0 104.5 L1206.5 104.5 L1207.0 104.5 L1207.5 104.5 L1208.0 104.5 L1208.5 104.5 L1209.0 104.5 L1209.5 104.5 L1210.0 104.5 L1210.5 104.5 L1211.0 104.5 L1211.5 104.5 L1212.0 104.5 L1212.5 104.5 L1213.0 104.5 L1213.5 104.5 L1214.0 104.5 L1214.5 104.5 L1215.0 104.5 L1215.5 104.5 L1216.0 104.5 L1216.5 104.5 L1217.0 104.5 L1217.5 104.5 L1218.0 104.5 L1218.5 104.5 L1219.0 104.5 L1219.5 104.4 L1220.0 104.3 L1220.5 104.2 L1221.0 104.0 L1221.5 103.8 L1222.0 103.6 L1222.5 103.3 L1223.0 103.0 L1223.5 102.7 L1224.0 102.4 L1224.5 102.1 L1225.0 101.8 L1225.5 101.5 L1226.0 101.2 L1226.5 100.8 L1227.0 100.5 L1227.5 100.3 L1228.0 100.0 L1228.5 99.8 L1229.0 99.5 L1229.5 99.3 L1230.0 99.2 L1230.5 99.1 L1231.0 99.0 L1231.5 98.9 L1232.0 98.9 L1232.5 99.0 L1233.0 99.0 L1233.5 99.2 L1234.0 99.3 L1234.5 99.5 L1235.0 99.7 L1235.5 100.0 L1236.0 100.2 L1236.5 100.5 L1237.0 100.8 L1237.5 101.2 L1238.0 101.5 L1238.5 101.9 L1239.0 102.3 L1239.5 102.7 L1240.0 103.1 L1240.5 103.5 L1241.0 103.9 L1241.5 104.3 L1242.0 104.7 L1242.5 105.1 L1243.0 105.4 L1243.5 105.8 L1244.0 106.2 L1244.5 106.5 L1245.0 106.9 L1245.5 107.2 L1246.0 107.4 L1246.5 107.7 L1247.0 108.0 L1247.5 108.2 L1248.0 108.4 L1248.5 108.5 L1249.0 108.6 L1249.5 108.8 L1250.0 108.8 L1250.5 108.9 L1251.0 108.9 L1251.5 108.9 L1252.0 108.9 L1252.5 108.8 L1253.0 108.7 L1253.5 108.6 L1254.0 108.4 L1254.5 108.3 L1255.0 108.1 L1255.5 107.9 L1256.0 107.6 L1256.5 107.4 L1257.0 107.1 L1257.5 106.9 L1258.0 106.6 L1258.5 106.3 L1259.0 106.0 L1259.5 105.7 L1260.0 105.3 L1260.5 105.0 L1261.0 104.7 L1261.5 104.4 L1262.0 104.1 L1262.5 103.8 L1263.0 103.5 L1263.5 103.2 L1264.0 102.9 L1264.5 102.7 L1265.0 102.4 L1265.5 102.2 L1266.0 102.0 L1266.5 101.8 L1267.0 101.7 L1267.5 101.5 L1268.0 101.4 L1268.5 101.3 L1269.0 101.2 L1269.5 101.1 L1270.0 101.1 L1270.5 101.1 L1271.0 101.1 L1271.5 101.1 L1272.0 101.1 L1272.5 101.2 L1273.0 101.3 L1273.5 101.4 L1274.0 101.5 L1274.5 101.7 L1275.0 101.8 L1275.5 102.0 L1276.0 102.2 L1276.5 102.4 L1277.0 102.6 L1277.5 102.8 L1278.0 103.1 L1278.5 103.3 L1279.0 103.6 L1279.5 103.8 L1280.0 104.1 L1280.5 104.3 L1281.0 104.5 L1281.5 104.8 L1282.0 105.0 L1282.5 105.3 L1283.0 105.5 L1283.5 105.7 L1284.0 105.9 L1284.5 106.1 L1285.0 106.3 L1285.5 106.4 L1286.0 106.6 L1286.5 106.7 L1287.0 106.8 L1287.5 106.9 L1288.0 107.0 L1288.5 107.1 L1289.0 107.1 L1289.5 107.2 L1290.0 107.2 L1290.5 107.2 L1291.0 107.2 L1291.5 107.1 L1292.0 107.1 L1292.5 107.0 L1293.0 106.9 L1293.5 106.8 L1294.0 106.7 L1294.5 106.6 L1295.0 106.5 L1295.5 106.3 L1296.0 106.2 L1296.5 106.0 L1297.0 105.8 L1297.5 105.6 L1298.0 105.5 L1298.5 105.3 L1299.0 105.1 L1299.5 104.9 L1300.0 104.7 L1300.5 104.5 L1301.0 104.3 L1301.5 104.1 L1302.0 103.9 L1302.5 103.8 L1303.0 103.6 L1303.5 103.4 L1304.0 103.3 L1304.5 103.1 L1305.0 103.0 L1305.5 102.9 L1306.0 102.8 L1306.5 102.7 L1307.0 102.6 L1307.5 102.5 L1308.0 102.5 L1308.5 102.4 L1309.0 102.4 L1309.5 102.4 L1310.0 102.4 L1310.5 102.4 L1311.0 102.4 L1311.5 102.5 L1312.0 102.5 L1312.5 102.6 L1313.0 102.7 L1313.5 102.7 L1314.0 102.8 L1314.5 102.9 L1315.0 103.1 L1315.5 103.2 L1316.0 103.3 L1316.5 103.5 L1317.0 103.6 L1317.5 103.7 L1318.0 103.9 L1318.5 104.0 L1319.0 104.2 L1319.5 104.3 L1320.0 104.5 L1320.5 104.6 L1321.0 104.8 L1321.5 104.9 L1322.0 105.1 L1322.5 105.2 L1323.0 105.3 L1323.5 105.4 L1324.0 105.6 L1324.5 105.7 L1325.0 105.8 L1325.5 105.8 L1326.0 105.9 L1326.5 106.0 L1327.0 106.0 L1327.5 106.1 L1328.0 106.1 L1328.5 106.1 L1329.0 106.2 L1329.5 106.2 L1330.0 106.1 L1330.5 106.1 L1331.0 106.1 L1331.5 106.1 L1332.0 106.0 L1332.5 105.9 L1333.0 105.9 L1333.5 105.8 L1334.0 105.7 L1334.5 105.6 L1335.0 105.5 L1335.5 105.4 L1336.0 105.3 L1336.5 105.2 L1337.0 105.1 L1337.5 105.0 L1338.0 104.9 L1338.5 104.8 L1339.0 104.6 L1339.5 104.5 L1340.0 104.4 L1340.5 104.3 L1341.0 104.2 L1341.5 104.1 L1342.0 104.0 L1342.5 103.9 L1343.0 103.8 L1343.5 103.7 L1344.0 103.6 L1344.5 103.5 L1345.0 103.5 L1345.5 103.4 L1346.0 103.3 L1346.5 103.3 L1347.0 103.3 L1347.5 103.2 L1348.0 103.2 L1348.5 103.2 L1349.0 103.2 L1349.5 103.2 L1350.0 103.2 L1350.5 103.2 L1351.0 103.3 L1351.5 103.3 L1352.0 103.4 L1352.5 103.4 L1353.0 103.5 L1353.5 103.5 L1354.0 103.6 L1354.5 103.7 L1355.0 103.8 L1355.5 103.8 L1356.0 103.9 L1356.5 104.0 L1357.0 104.1 L1357.5 104.2 L1358.0 104.3 L1358.5 104.4 L1359.0 104.5 L1359.5 104.6 L1360.0 104.6 L1360.5 104.7 L1361.0 104.8 L1361.5 104.9 L1362.0 105.0 L1362.5 105.1 L1363.0 105.1 L1363.5 105.2 L1364.0 105.3 L1364.5 105.3 L1365.0 105.4 L1365.5 105.4 L1366.0 105.4 L1366.5 105.5 L1367.0 105.5 L1367.5 105.5 L1368.0 105.5 L1368.5 105.5 L1369.0 105.5 L1369.5 105.5 L1370.0 105.5 L1370.5 105.5 L1371.0 105.4 L1371.5 105.4 L1372.0 105.4 L1372.5 105.3 L1373.0 105.3 L1373.5 105.2 L1374.0 105.2 L1374.5 105.1 L1375.0 105.0 L1375.5 105.0 L1376.0 104.9 L1376.5 104.8 L1377.0 104.8 L1377.5 104.7 L1378.0 104.6 L1378.5 104.5 L1379.0 104.5 L1379.5 104.4 L1380.0 104.3 L1380.5 104.3 L1381.0 104.2 L1381.5 104.1 L1382.0 104.1 L1382.5 104.0 L1383.0 104.0 L1383.5 103.9 L1384.0 103.9 L1384.5 103.8 L1385.0 103.8 L1385.5 103.8 L1386.0 103.7 L1386.5 103.7 L1387.0 103.7 L1387.5 103.7 L1388.0 103.7 L1388.5 103.7 L1389.0 103.7 L1389.5 103.7 L1390.0 103.7 L1390.5 103.8 L1391.0 103.8 L1391.5 103.8 L1392.0 103.9 L1392.5 103.9 L1393.0 103.9 L1393.5 104.0 L1394.0 104.0 L1394.5 104.1 L1395.0 104.1 L1395.5 104.2 L1396.0 104.2 L1396.5 104.3 L1397.0 104.4 L1397.5 104.4 L1398.0 104.5 L1398.5 104.5 L1399.0 104.6 L1399.5 104.6 L1400.0 104.7 L1400.5 104.7 L1401.0 104.8 L1401.5 104.8 L1402.0 104.9 L1402.5 104.9 L1403.0 105.0 L1403.5 105.0 L1404.0 105.0 L1404.5 105.0 L1405.0 105.1 L1405.5 105.1 L1406.0 105.1 L1406.5 105.1 L1407.0 105.1 L1407.5 105.1 L1408.0 105.1 L1408.5 105.1 L1409.0 105.1 L1409.5 105.1 L1410.0 105.1 L1410.5 105.1 L1411.0 105.0 L1411.5 105.0 L1412.0 105.0 L1412.5 104.9 L1413.0 104.9 L1413.5 104.9 L1414.0 104.8 L1414.5 104.8 L1415.0 104.8 L1415.5 104.7 L1416.0 104.7 L1416.5 104.6 L1417.0 104.6 L1417.5 104.5 L1418.0 104.5 L1418.5 104.4 L1419.0 104.4 L1419.5 104.4 L1420.0 104.3 L1420.5 104.3 L1421.0 104.2 L1421.5 104.2 L1422.0 104.2 L1422.5 104.1 L1423.0 104.1 L1423.5 104.1 L1424.0 104.1 L1424.5 104.1 L1425.0 104.0 L1425.5 104.0 L1426.0 104.0 L1426.5 104.0 L1427.0 104.0 L1427.5 104.0 L1428.0 104.0 L1428.5 104.0 L1429.0 104.0 L1429.5 104.0 L1430.0 104.1 L1430.5 104.1 L1431.0 104.1 L1431.5 104.1 L1432.0 104.1 L1432.5 104.2 L1433.0 104.2 L1433.5 104.2 L1434.0 104.3 L1434.5 104.3 L1435.0 104.3 L1435.5 104.4 L1436.0 104.4 L1436.5 104.4 L1437.0 104.5 L1437.5 104.5 L1438.0 104.5 L1438.5 104.6 L1439.0 104.6 L1439.5 104.6 L1440.0 104.7 L1440.5 104.7 L1441.0 104.7 L1441.5 104.7 L1442.0 104.8 L1442.5 104.8 L1443.0 104.8 L1443.5 104.8 L1444.0 104.8 L1444.5 104.9 L1445.0 104.9 L1445.5 104.9 L1446.0 104.9 L1446.5 104.9 L1447.0 104.9 L1447.5 104.9 L1448.0 104.9 L1448.5 104.9 L1449.0 104.9 L1449.5 104.8 L1450.0 104.8 L1450.5 104.8 L1451.0 104.8 L1451.5 104.8 L1452.0 104.8 L1452.5 104.7 L1453.0 104.7 L1453.5 104.7 L1454.0 104.7 L1454.5 104.6 L1455.0 104.6 L1455.5 104.6 L1456.0 104.6 L1456.5 104.5 L1457.0 104.5 L1457.5 104.5 L1458.0 104.4 L1458.5 104.4 L1459.0 104.4 L1459.5 104.4 L1460.0 104.3 L1460.5 104.3 L1461.0 104.3 L1461.5 104.3 L1462.0 104.3 L1462.5 104.3 L1463.0 104.2 L1463.5 104.2 L1464.0 104.2 L1464.5 104.2 L1465.0 104.2 L1465.5 104.2 L1466.0 104.2 L1466.5 104.2 L1467.0 104.2 L1467.5 104.2 L1468.0 104.2 L1468.5 104.2 L1469.0 104.2 L1469.5 104.2 L1470.0 104.3 L1470.5 104.3 L1471.0 104.3 L1471.5 104.3 L1472.0 104.3 L1472.5 104.3 L1473.0 104.4 L1473.5 104.4 L1474.0 104.4 L1474.5 104.4 L1475.0 104.4 L1475.5 104.5 L1476.0 104.5 L1476.5 104.5 L1477.0 104.5 L1477.5 104.5 L1478.0 104.6 L1478.5 104.6 L1479.0 104.6 L1479.5 104.6 L1480.0 104.6 L1480.5 104.6 L1481.0 104.7 L1481.5 104.7 L1482.0 104.7 L1482.5 104.7 L1483.0 104.7 L1483.5 104.7 L1484.0 104.7 L1484.5 104.7 L1485.0 104.7 L1485.5 104.7 L1486.0 104.7 L1486.5 104.7 L1487.0 104.7 L1487.5 104.7 L1488.0 104.7 L1488.5 104.7 L1489.0 104.7 L1489.5 104.7 L1490.0 104.7 L1490.5 104.7 L1491.0 104.7 L1491.5 104.6 L1492.0 104.6 L1492.5 104.6 L1493.0 104.6 L1493.5 104.6 L1494.0 104.6 L1494.5 104.6 L1495.0 104.5 L1495.5 104.5 L1496.0 104.5 L1496.5 104.5 L1497.0 104.5 L1497.5 104.5 L1498.0 104.4 L1498.5 104.4 L1499.0 104.4 L1499.5 104.4 L1500.0 104.4 L1500.5 104.4 L1501.0 104.4 L1501.5 104.4 L1502.0 104.3 L1502.5 104.3 L1503.0 104.3 L1503.5 104.3 L1504.0 104.3 L1504.5 104.3 L1505.0 104.3 L1505.5 104.3 L1506.0 104.3 L1506.5 104.3 L1507.0 104.3 L1507.5 104.3 L1508.0 104.3 L1508.5 104.3 L1509.0 104.3 L1509.5 104.4 L1510.0 104.4 L1510.5 104.4 L1511.0 104.4 L1511.5 104.4 L1512.0 104.4 L1512.5 104.4 L1513.0 104.4 L1513.5 104.4 L1514.0 104.5 L1514.5 104.5 L1515.0 104.5 L1515.5 104.5 L1516.0 104.5 L1516.5 104.5 L1517.0 104.5 L1517.5 104.5 L1518.0 104.6 L1518.5 104.6 L1519.0 104.6 L1519.5 104.6 L1520.0 104.6 L1520.5 104.6 L1521.0 104.6 L1521.5 104.6 L1522.0 104.6 L1522.5 104.6 L1523.0 104.6 L1523.5 104.6 L1524.0 104.6 L1524.5 104.6 L1525.0 104.6 L1525.5 104.6 L1526.0 104.6 L1526.5 104.6 L1527.0 104.6 L1527.5 104.6 L1528.0 104.6 L1528.5 104.6 L1529.0 104.6 L1529.5 104.6 L1530.0 104.6 L1530.5 104.6 L1531.0 104.6 L1531.5 104.6 L1532.0 104.6 L1532.5 104.6 L1533.0 104.5 L1533.5 104.5 L1534.0 104.5 L1534.5 104.5 L1535.0 104.5" stroke="#00ff00" stroke-width="3" fill="none" stroke-linejoin="round"/>
<text x="1053" y="309.8" font-size="28.8" font-weight="700" fill="#00ff00" textLength="444" lengthAdjust="spacingAndGlyphs">Green : Vp=0.01 (Qspice default)</text>
<text x="1129" y="496.1" font-size="28.8" font-weight="700" fill="#ff4810" textLength="383" lengthAdjust="spacingAndGlyphs">Red : Vp=0 (LTspice default)</text>
<g transform="translate(931.2 237.7) rotate(-90)" fill="#ff4810" font-size="27.5" font-weight="700" text-anchor="middle"><text x="4.95" y="0" font-family="Liberation Serif">I</text><text x="16.85" y="0">(</text><text x="31.45" y="0">D</text><text x="50" y="0">B</text><text x="68.15" y="0">D</text><text x="101.2" y="0">X</text><text x="118.3" y="0">1</text><text x="131.35" y="0">)</text><circle cx="84.6" cy="-8.8" r="6.2"/></g>
<rect x="938" y="100.5" width="32" height="139.5" fill="#00ff00"/>
<g transform="translate(963.1 237.7) rotate(-90)" fill="#000" font-size="27.5" font-weight="700" text-anchor="middle"><text x="4.95" y="0" font-family="Liberation Serif">I</text><text x="16.85" y="0">(</text><text x="31.45" y="0">D</text><text x="50" y="0">B</text><text x="68.15" y="0">D</text><text x="101.2" y="0">X</text><text x="118.3" y="0">1</text><text x="131.35" y="0">)</text><circle cx="84.6" cy="-8.8" r="6.2"/></g>
<text transform="translate(958 460.5) rotate(-90)" font-size="27.5" font-weight="700" fill="#ff4810" textLength="74" lengthAdjust="spacingAndGlyphs">V(sw)</text>
<text transform="translate(958 612) rotate(-90)" font-size="27.5" font-weight="700" fill="#00ff00" textLength="75" lengthAdjust="spacingAndGlyphs">V(sw)</text>
</g>
<!-- output window -->
<text x="7" y="538.8" font-size="15" fill="#202020" textLength="99" lengthAdjust="spacingAndGlyphs">Output Window</text>
<path d="M860 532 L871 532 L865.5 539 Z" fill="#000"/>
<path d="M880 530.5 L888.5 539 M888.5 530.5 L880 539" stroke="#000" stroke-width="2"/>
<path d="M876.5 566 L886.5 566 L881.5 559 Z" fill="#a0a0a0"/>
<path d="M876.5 623 L886.5 623 L881.5 630 Z" fill="#a0a0a0"/>
<path d="M19 643 L19 652 L12 647.5 Z" fill="#a8a8a8"/>
<path d="M857 643 L857 652 L864 647.5 Z" fill="#a8a8a8"/>
<!-- tabs -->
<path d="M80 658.5 L92 684 L162 684 L175 658.5" fill="#ffffff" stroke="#707070" stroke-width="1"/>
<path d="M169 671 L176 684 L258 684 L271 658.5" fill="none" stroke="#707070" stroke-width="1"/>
<text x="91" y="676" font-size="15" font-weight="700" fill="#000" textLength="71.5" lengthAdjust="spacingAndGlyphs">Simulation</text>
<text x="179" y="676" font-size="15" fill="#000" textLength="77" lengthAdjust="spacingAndGlyphs">Post Process</text>
<path d="M9.7 668 L9.7 677" stroke="#000" stroke-width="2"/>
<path d="M17 668 L11 672.5 L17 677 Z" fill="#000"/>
<path d="M34 668 L28.2 672.5 L34 677 Z" fill="#000"/>
<path d="M47.8 668 L53.4 672.5 L47.8 677 Z" fill="#000"/>
<path d="M64.3 668 L70 672.5 L64.3 677 Z" fill="#000"/>
<path d="M71.3 668 L71.3 677" stroke="#000" stroke-width="2"/>
</svg>
<div class="mono" style="left:16px;top:554px;">C:\Users\kskel\Downloads\example.2SK2225.qsch</div>
<div class="mono" style="left:16px;top:594px;">Total elapsed time: 30.4668 seconds.</div>
</body></html>
